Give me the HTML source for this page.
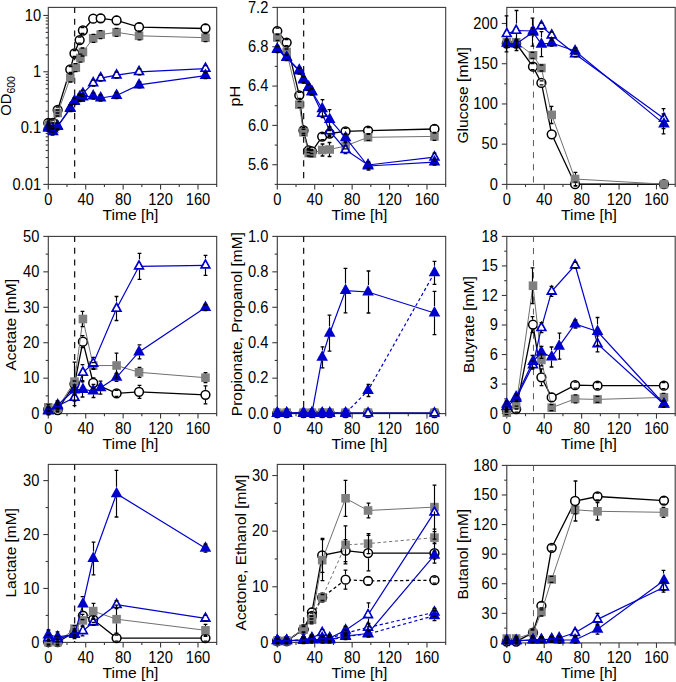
<!DOCTYPE html>
<html><head><meta charset="utf-8"><style>
html,body{margin:0;padding:0;background:#fff;}
svg{display:block;}
.tl{font-family:"Liberation Sans",sans-serif;font-size:14.55px;fill:#000;}
.tk{font-family:"Liberation Sans",sans-serif;font-size:15.2px;fill:#000;}
.yt{font-family:"Liberation Sans",sans-serif;font-size:14.8px;fill:#000;}
</style></head><body>
<svg width="676" height="682" viewBox="0 0 676 682">
<rect x="48.30" y="7.40" width="168.40" height="177.00" fill="none" stroke="#3a3a3a" stroke-width="1.1"/>
<line x1="48.30" y1="184.40" x2="48.30" y2="189.40" stroke="#3a3a3a" stroke-width="1.1"/>
<text transform="translate(48.30,204.60) scale(0.965,1.03)" text-anchor="middle" class="tk">0</text>
<line x1="85.72" y1="184.40" x2="85.72" y2="189.40" stroke="#3a3a3a" stroke-width="1.1"/>
<text transform="translate(85.72,204.60) scale(0.965,1.03)" text-anchor="middle" class="tk">40</text>
<line x1="123.14" y1="184.40" x2="123.14" y2="189.40" stroke="#3a3a3a" stroke-width="1.1"/>
<text transform="translate(123.14,204.60) scale(0.965,1.03)" text-anchor="middle" class="tk">80</text>
<line x1="160.56" y1="184.40" x2="160.56" y2="189.40" stroke="#3a3a3a" stroke-width="1.1"/>
<text transform="translate(160.56,204.60) scale(0.965,1.03)" text-anchor="middle" class="tk">120</text>
<line x1="197.98" y1="184.40" x2="197.98" y2="189.40" stroke="#3a3a3a" stroke-width="1.1"/>
<text transform="translate(197.98,204.60) scale(0.965,1.03)" text-anchor="middle" class="tk">160</text>
<line x1="67.01" y1="184.40" x2="67.01" y2="187.00" stroke="#3a3a3a" stroke-width="1.1"/>
<line x1="104.43" y1="184.40" x2="104.43" y2="187.00" stroke="#3a3a3a" stroke-width="1.1"/>
<line x1="141.85" y1="184.40" x2="141.85" y2="187.00" stroke="#3a3a3a" stroke-width="1.1"/>
<line x1="179.27" y1="184.40" x2="179.27" y2="187.00" stroke="#3a3a3a" stroke-width="1.1"/>
<line x1="216.69" y1="184.40" x2="216.69" y2="187.00" stroke="#3a3a3a" stroke-width="1.1"/>
<line x1="43.30" y1="184.40" x2="48.30" y2="184.40" stroke="#3a3a3a" stroke-width="1.1"/>
<text transform="translate(41.10,189.70) scale(0.965,1.03)" text-anchor="end" class="tk">0.01</text>
<line x1="43.30" y1="128.08" x2="48.30" y2="128.08" stroke="#3a3a3a" stroke-width="1.1"/>
<text transform="translate(41.10,133.38) scale(0.965,1.03)" text-anchor="end" class="tk">0.1</text>
<line x1="43.30" y1="71.77" x2="48.30" y2="71.77" stroke="#3a3a3a" stroke-width="1.1"/>
<text transform="translate(41.10,77.07) scale(0.965,1.03)" text-anchor="end" class="tk">1</text>
<line x1="43.30" y1="15.45" x2="48.30" y2="15.45" stroke="#3a3a3a" stroke-width="1.1"/>
<text transform="translate(41.10,20.75) scale(0.965,1.03)" text-anchor="end" class="tk">10</text>
<line x1="45.70" y1="167.45" x2="48.30" y2="167.45" stroke="#3a3a3a" stroke-width="1.1"/>
<line x1="45.70" y1="157.53" x2="48.30" y2="157.53" stroke="#3a3a3a" stroke-width="1.1"/>
<line x1="45.70" y1="150.49" x2="48.30" y2="150.49" stroke="#3a3a3a" stroke-width="1.1"/>
<line x1="45.70" y1="145.04" x2="48.30" y2="145.04" stroke="#3a3a3a" stroke-width="1.1"/>
<line x1="45.70" y1="140.58" x2="48.30" y2="140.58" stroke="#3a3a3a" stroke-width="1.1"/>
<line x1="45.70" y1="136.81" x2="48.30" y2="136.81" stroke="#3a3a3a" stroke-width="1.1"/>
<line x1="45.70" y1="133.54" x2="48.30" y2="133.54" stroke="#3a3a3a" stroke-width="1.1"/>
<line x1="45.70" y1="130.66" x2="48.30" y2="130.66" stroke="#3a3a3a" stroke-width="1.1"/>
<line x1="45.70" y1="111.13" x2="48.30" y2="111.13" stroke="#3a3a3a" stroke-width="1.1"/>
<line x1="45.70" y1="101.22" x2="48.30" y2="101.22" stroke="#3a3a3a" stroke-width="1.1"/>
<line x1="45.70" y1="94.18" x2="48.30" y2="94.18" stroke="#3a3a3a" stroke-width="1.1"/>
<line x1="45.70" y1="88.72" x2="48.30" y2="88.72" stroke="#3a3a3a" stroke-width="1.1"/>
<line x1="45.70" y1="84.26" x2="48.30" y2="84.26" stroke="#3a3a3a" stroke-width="1.1"/>
<line x1="45.70" y1="80.49" x2="48.30" y2="80.49" stroke="#3a3a3a" stroke-width="1.1"/>
<line x1="45.70" y1="77.23" x2="48.30" y2="77.23" stroke="#3a3a3a" stroke-width="1.1"/>
<line x1="45.70" y1="74.35" x2="48.30" y2="74.35" stroke="#3a3a3a" stroke-width="1.1"/>
<line x1="45.70" y1="54.82" x2="48.30" y2="54.82" stroke="#3a3a3a" stroke-width="1.1"/>
<line x1="45.70" y1="44.90" x2="48.30" y2="44.90" stroke="#3a3a3a" stroke-width="1.1"/>
<line x1="45.70" y1="37.86" x2="48.30" y2="37.86" stroke="#3a3a3a" stroke-width="1.1"/>
<line x1="45.70" y1="32.41" x2="48.30" y2="32.41" stroke="#3a3a3a" stroke-width="1.1"/>
<line x1="45.70" y1="27.95" x2="48.30" y2="27.95" stroke="#3a3a3a" stroke-width="1.1"/>
<line x1="45.70" y1="24.18" x2="48.30" y2="24.18" stroke="#3a3a3a" stroke-width="1.1"/>
<line x1="45.70" y1="20.91" x2="48.30" y2="20.91" stroke="#3a3a3a" stroke-width="1.1"/>
<line x1="45.70" y1="18.03" x2="48.30" y2="18.03" stroke="#3a3a3a" stroke-width="1.1"/>
<text transform="translate(130.50,219.90) scale(1.075,1)" text-anchor="middle" class="tl">Time [h]</text>
<text transform="translate(11.30,95.90) rotate(-90)" text-anchor="middle" class="yt">OD<tspan font-size="10.5" dy="4">600</tspan></text>
<path d="M74.63,7.40 V13.00 M74.63,18.70 V24.80 M74.63,30.50 V36.60 M74.63,42.30 V48.40 M74.63,54.10 V60.20 M74.63,65.90 V72.00 M74.63,77.70 V83.80 M74.63,89.50 V95.60 M74.63,101.30 V107.40 M74.63,113.10 V119.20 M74.63,124.90 V131.00 M74.63,136.70 V142.80 M74.63,148.50 V154.60 M74.63,160.30 V166.40 M74.63,172.10 V178.20 M74.63,183.90 V184.40" stroke="#1a1a1a" stroke-width="1.3" fill="none"/>
<rect x="277.30" y="7.40" width="168.40" height="177.00" fill="none" stroke="#3a3a3a" stroke-width="1.1"/>
<line x1="277.30" y1="184.40" x2="277.30" y2="189.40" stroke="#3a3a3a" stroke-width="1.1"/>
<text transform="translate(277.30,204.60) scale(0.965,1.03)" text-anchor="middle" class="tk">0</text>
<line x1="314.72" y1="184.40" x2="314.72" y2="189.40" stroke="#3a3a3a" stroke-width="1.1"/>
<text transform="translate(314.72,204.60) scale(0.965,1.03)" text-anchor="middle" class="tk">40</text>
<line x1="352.14" y1="184.40" x2="352.14" y2="189.40" stroke="#3a3a3a" stroke-width="1.1"/>
<text transform="translate(352.14,204.60) scale(0.965,1.03)" text-anchor="middle" class="tk">80</text>
<line x1="389.56" y1="184.40" x2="389.56" y2="189.40" stroke="#3a3a3a" stroke-width="1.1"/>
<text transform="translate(389.56,204.60) scale(0.965,1.03)" text-anchor="middle" class="tk">120</text>
<line x1="426.98" y1="184.40" x2="426.98" y2="189.40" stroke="#3a3a3a" stroke-width="1.1"/>
<text transform="translate(426.98,204.60) scale(0.965,1.03)" text-anchor="middle" class="tk">160</text>
<line x1="296.01" y1="184.40" x2="296.01" y2="187.00" stroke="#3a3a3a" stroke-width="1.1"/>
<line x1="333.43" y1="184.40" x2="333.43" y2="187.00" stroke="#3a3a3a" stroke-width="1.1"/>
<line x1="370.85" y1="184.40" x2="370.85" y2="187.00" stroke="#3a3a3a" stroke-width="1.1"/>
<line x1="408.27" y1="184.40" x2="408.27" y2="187.00" stroke="#3a3a3a" stroke-width="1.1"/>
<line x1="445.69" y1="184.40" x2="445.69" y2="187.00" stroke="#3a3a3a" stroke-width="1.1"/>
<line x1="272.30" y1="164.73" x2="277.30" y2="164.73" stroke="#3a3a3a" stroke-width="1.1"/>
<text transform="translate(268.30,170.03) scale(0.965,1.03)" text-anchor="end" class="tk">5.6</text>
<line x1="272.30" y1="125.40" x2="277.30" y2="125.40" stroke="#3a3a3a" stroke-width="1.1"/>
<text transform="translate(268.30,130.70) scale(0.965,1.03)" text-anchor="end" class="tk">6.0</text>
<line x1="272.30" y1="86.07" x2="277.30" y2="86.07" stroke="#3a3a3a" stroke-width="1.1"/>
<text transform="translate(268.30,91.37) scale(0.965,1.03)" text-anchor="end" class="tk">6.4</text>
<line x1="272.30" y1="46.73" x2="277.30" y2="46.73" stroke="#3a3a3a" stroke-width="1.1"/>
<text transform="translate(268.30,52.03) scale(0.965,1.03)" text-anchor="end" class="tk">6.8</text>
<line x1="272.30" y1="7.40" x2="277.30" y2="7.40" stroke="#3a3a3a" stroke-width="1.1"/>
<text transform="translate(268.30,12.70) scale(0.965,1.03)" text-anchor="end" class="tk">7.2</text>
<line x1="274.70" y1="184.40" x2="277.30" y2="184.40" stroke="#3a3a3a" stroke-width="1.1"/>
<line x1="274.70" y1="145.07" x2="277.30" y2="145.07" stroke="#3a3a3a" stroke-width="1.1"/>
<line x1="274.70" y1="105.73" x2="277.30" y2="105.73" stroke="#3a3a3a" stroke-width="1.1"/>
<line x1="274.70" y1="66.40" x2="277.30" y2="66.40" stroke="#3a3a3a" stroke-width="1.1"/>
<line x1="274.70" y1="27.07" x2="277.30" y2="27.07" stroke="#3a3a3a" stroke-width="1.1"/>
<text transform="translate(359.50,219.90) scale(1.075,1)" text-anchor="middle" class="tl">Time [h]</text>
<text transform="translate(240.40,96.15) rotate(-90)" text-anchor="middle" class="yt" textLength="20.80" lengthAdjust="spacingAndGlyphs">pH</text>
<path d="M303.63,7.40 V13.00 M303.63,18.70 V24.80 M303.63,30.50 V36.60 M303.63,42.30 V48.40 M303.63,54.10 V60.20 M303.63,65.90 V72.00 M303.63,77.70 V83.80 M303.63,89.50 V95.60 M303.63,101.30 V107.40 M303.63,113.10 V119.20 M303.63,124.90 V131.00 M303.63,136.70 V142.80 M303.63,148.50 V154.60 M303.63,160.30 V166.40 M303.63,172.10 V178.20 M303.63,183.90 V184.40" stroke="#1a1a1a" stroke-width="1.3" fill="none"/>
<rect x="506.80" y="7.40" width="168.40" height="177.00" fill="none" stroke="#3a3a3a" stroke-width="1.1"/>
<line x1="506.80" y1="184.40" x2="506.80" y2="189.40" stroke="#3a3a3a" stroke-width="1.1"/>
<text transform="translate(506.80,204.60) scale(0.965,1.03)" text-anchor="middle" class="tk">0</text>
<line x1="544.22" y1="184.40" x2="544.22" y2="189.40" stroke="#3a3a3a" stroke-width="1.1"/>
<text transform="translate(544.22,204.60) scale(0.965,1.03)" text-anchor="middle" class="tk">40</text>
<line x1="581.64" y1="184.40" x2="581.64" y2="189.40" stroke="#3a3a3a" stroke-width="1.1"/>
<text transform="translate(581.64,204.60) scale(0.965,1.03)" text-anchor="middle" class="tk">80</text>
<line x1="619.06" y1="184.40" x2="619.06" y2="189.40" stroke="#3a3a3a" stroke-width="1.1"/>
<text transform="translate(619.06,204.60) scale(0.965,1.03)" text-anchor="middle" class="tk">120</text>
<line x1="656.48" y1="184.40" x2="656.48" y2="189.40" stroke="#3a3a3a" stroke-width="1.1"/>
<text transform="translate(656.48,204.60) scale(0.965,1.03)" text-anchor="middle" class="tk">160</text>
<line x1="525.51" y1="184.40" x2="525.51" y2="187.00" stroke="#3a3a3a" stroke-width="1.1"/>
<line x1="562.93" y1="184.40" x2="562.93" y2="187.00" stroke="#3a3a3a" stroke-width="1.1"/>
<line x1="600.35" y1="184.40" x2="600.35" y2="187.00" stroke="#3a3a3a" stroke-width="1.1"/>
<line x1="637.77" y1="184.40" x2="637.77" y2="187.00" stroke="#3a3a3a" stroke-width="1.1"/>
<line x1="675.19" y1="184.40" x2="675.19" y2="187.00" stroke="#3a3a3a" stroke-width="1.1"/>
<line x1="501.80" y1="184.40" x2="506.80" y2="184.40" stroke="#3a3a3a" stroke-width="1.1"/>
<text transform="translate(497.80,189.70) scale(0.965,1.03)" text-anchor="end" class="tk">0</text>
<line x1="501.80" y1="144.17" x2="506.80" y2="144.17" stroke="#3a3a3a" stroke-width="1.1"/>
<text transform="translate(497.80,149.47) scale(0.965,1.03)" text-anchor="end" class="tk">50</text>
<line x1="501.80" y1="103.95" x2="506.80" y2="103.95" stroke="#3a3a3a" stroke-width="1.1"/>
<text transform="translate(497.80,109.25) scale(0.965,1.03)" text-anchor="end" class="tk">100</text>
<line x1="501.80" y1="63.72" x2="506.80" y2="63.72" stroke="#3a3a3a" stroke-width="1.1"/>
<text transform="translate(497.80,69.02) scale(0.965,1.03)" text-anchor="end" class="tk">150</text>
<line x1="501.80" y1="23.49" x2="506.80" y2="23.49" stroke="#3a3a3a" stroke-width="1.1"/>
<text transform="translate(497.80,28.79) scale(0.965,1.03)" text-anchor="end" class="tk">200</text>
<line x1="504.20" y1="164.29" x2="506.80" y2="164.29" stroke="#3a3a3a" stroke-width="1.1"/>
<line x1="504.20" y1="124.06" x2="506.80" y2="124.06" stroke="#3a3a3a" stroke-width="1.1"/>
<line x1="504.20" y1="83.83" x2="506.80" y2="83.83" stroke="#3a3a3a" stroke-width="1.1"/>
<line x1="504.20" y1="43.60" x2="506.80" y2="43.60" stroke="#3a3a3a" stroke-width="1.1"/>
<text transform="translate(589.00,219.90) scale(1.075,1)" text-anchor="middle" class="tl">Time [h]</text>
<text transform="translate(467.80,95.40) rotate(-90)" text-anchor="middle" class="yt" textLength="96.30" lengthAdjust="spacingAndGlyphs">Glucose [mM]</text>
<path d="M533.46,7.40 V13.00 M533.46,19.00 V25.10 M533.46,31.10 V37.20 M533.46,43.20 V49.30 M533.46,55.30 V61.40 M533.46,67.40 V73.50 M533.46,79.50 V85.60 M533.46,91.60 V97.70 M533.46,103.70 V109.80 M533.46,115.80 V121.90 M533.46,127.90 V134.00 M533.46,140.00 V146.10 M533.46,152.10 V158.20 M533.46,164.20 V170.30 M533.46,176.30 V182.40" stroke="#5a5a5a" stroke-width="1.0" fill="none"/>
<rect x="48.30" y="236.40" width="168.40" height="177.20" fill="none" stroke="#3a3a3a" stroke-width="1.1"/>
<line x1="48.30" y1="413.60" x2="48.30" y2="418.60" stroke="#3a3a3a" stroke-width="1.1"/>
<text transform="translate(48.30,433.80) scale(0.965,1.03)" text-anchor="middle" class="tk">0</text>
<line x1="85.72" y1="413.60" x2="85.72" y2="418.60" stroke="#3a3a3a" stroke-width="1.1"/>
<text transform="translate(85.72,433.80) scale(0.965,1.03)" text-anchor="middle" class="tk">40</text>
<line x1="123.14" y1="413.60" x2="123.14" y2="418.60" stroke="#3a3a3a" stroke-width="1.1"/>
<text transform="translate(123.14,433.80) scale(0.965,1.03)" text-anchor="middle" class="tk">80</text>
<line x1="160.56" y1="413.60" x2="160.56" y2="418.60" stroke="#3a3a3a" stroke-width="1.1"/>
<text transform="translate(160.56,433.80) scale(0.965,1.03)" text-anchor="middle" class="tk">120</text>
<line x1="197.98" y1="413.60" x2="197.98" y2="418.60" stroke="#3a3a3a" stroke-width="1.1"/>
<text transform="translate(197.98,433.80) scale(0.965,1.03)" text-anchor="middle" class="tk">160</text>
<line x1="67.01" y1="413.60" x2="67.01" y2="416.20" stroke="#3a3a3a" stroke-width="1.1"/>
<line x1="104.43" y1="413.60" x2="104.43" y2="416.20" stroke="#3a3a3a" stroke-width="1.1"/>
<line x1="141.85" y1="413.60" x2="141.85" y2="416.20" stroke="#3a3a3a" stroke-width="1.1"/>
<line x1="179.27" y1="413.60" x2="179.27" y2="416.20" stroke="#3a3a3a" stroke-width="1.1"/>
<line x1="216.69" y1="413.60" x2="216.69" y2="416.20" stroke="#3a3a3a" stroke-width="1.1"/>
<line x1="43.30" y1="413.60" x2="48.30" y2="413.60" stroke="#3a3a3a" stroke-width="1.1"/>
<text transform="translate(39.30,418.90) scale(0.965,1.03)" text-anchor="end" class="tk">0</text>
<line x1="43.30" y1="378.16" x2="48.30" y2="378.16" stroke="#3a3a3a" stroke-width="1.1"/>
<text transform="translate(39.30,383.46) scale(0.965,1.03)" text-anchor="end" class="tk">10</text>
<line x1="43.30" y1="342.72" x2="48.30" y2="342.72" stroke="#3a3a3a" stroke-width="1.1"/>
<text transform="translate(39.30,348.02) scale(0.965,1.03)" text-anchor="end" class="tk">20</text>
<line x1="43.30" y1="307.28" x2="48.30" y2="307.28" stroke="#3a3a3a" stroke-width="1.1"/>
<text transform="translate(39.30,312.58) scale(0.965,1.03)" text-anchor="end" class="tk">30</text>
<line x1="43.30" y1="271.84" x2="48.30" y2="271.84" stroke="#3a3a3a" stroke-width="1.1"/>
<text transform="translate(39.30,277.14) scale(0.965,1.03)" text-anchor="end" class="tk">40</text>
<line x1="43.30" y1="236.40" x2="48.30" y2="236.40" stroke="#3a3a3a" stroke-width="1.1"/>
<text transform="translate(39.30,241.70) scale(0.965,1.03)" text-anchor="end" class="tk">50</text>
<line x1="45.70" y1="395.88" x2="48.30" y2="395.88" stroke="#3a3a3a" stroke-width="1.1"/>
<line x1="45.70" y1="360.44" x2="48.30" y2="360.44" stroke="#3a3a3a" stroke-width="1.1"/>
<line x1="45.70" y1="325.00" x2="48.30" y2="325.00" stroke="#3a3a3a" stroke-width="1.1"/>
<line x1="45.70" y1="289.56" x2="48.30" y2="289.56" stroke="#3a3a3a" stroke-width="1.1"/>
<line x1="45.70" y1="254.12" x2="48.30" y2="254.12" stroke="#3a3a3a" stroke-width="1.1"/>
<text transform="translate(130.50,449.10) scale(1.075,1)" text-anchor="middle" class="tl">Time [h]</text>
<text transform="translate(15.50,324.80) rotate(-90)" text-anchor="middle" class="yt" textLength="91.50" lengthAdjust="spacingAndGlyphs">Acetate [mM]</text>
<path d="M74.63,236.40 V242.00 M74.63,247.70 V253.80 M74.63,259.50 V265.60 M74.63,271.30 V277.40 M74.63,283.10 V289.20 M74.63,294.90 V301.00 M74.63,306.70 V312.80 M74.63,318.50 V324.60 M74.63,330.30 V336.40 M74.63,342.10 V348.20 M74.63,353.90 V360.00 M74.63,365.70 V371.80 M74.63,377.50 V383.60 M74.63,389.30 V395.40 M74.63,401.10 V407.20 M74.63,412.90 V413.60" stroke="#1a1a1a" stroke-width="1.3" fill="none"/>
<rect x="277.30" y="236.40" width="168.40" height="177.20" fill="none" stroke="#3a3a3a" stroke-width="1.1"/>
<line x1="277.30" y1="413.60" x2="277.30" y2="418.60" stroke="#3a3a3a" stroke-width="1.1"/>
<text transform="translate(277.30,433.80) scale(0.965,1.03)" text-anchor="middle" class="tk">0</text>
<line x1="314.72" y1="413.60" x2="314.72" y2="418.60" stroke="#3a3a3a" stroke-width="1.1"/>
<text transform="translate(314.72,433.80) scale(0.965,1.03)" text-anchor="middle" class="tk">40</text>
<line x1="352.14" y1="413.60" x2="352.14" y2="418.60" stroke="#3a3a3a" stroke-width="1.1"/>
<text transform="translate(352.14,433.80) scale(0.965,1.03)" text-anchor="middle" class="tk">80</text>
<line x1="389.56" y1="413.60" x2="389.56" y2="418.60" stroke="#3a3a3a" stroke-width="1.1"/>
<text transform="translate(389.56,433.80) scale(0.965,1.03)" text-anchor="middle" class="tk">120</text>
<line x1="426.98" y1="413.60" x2="426.98" y2="418.60" stroke="#3a3a3a" stroke-width="1.1"/>
<text transform="translate(426.98,433.80) scale(0.965,1.03)" text-anchor="middle" class="tk">160</text>
<line x1="296.01" y1="413.60" x2="296.01" y2="416.20" stroke="#3a3a3a" stroke-width="1.1"/>
<line x1="333.43" y1="413.60" x2="333.43" y2="416.20" stroke="#3a3a3a" stroke-width="1.1"/>
<line x1="370.85" y1="413.60" x2="370.85" y2="416.20" stroke="#3a3a3a" stroke-width="1.1"/>
<line x1="408.27" y1="413.60" x2="408.27" y2="416.20" stroke="#3a3a3a" stroke-width="1.1"/>
<line x1="445.69" y1="413.60" x2="445.69" y2="416.20" stroke="#3a3a3a" stroke-width="1.1"/>
<line x1="272.30" y1="413.60" x2="277.30" y2="413.60" stroke="#3a3a3a" stroke-width="1.1"/>
<text transform="translate(268.30,418.90) scale(0.965,1.03)" text-anchor="end" class="tk">0.0</text>
<line x1="272.30" y1="378.16" x2="277.30" y2="378.16" stroke="#3a3a3a" stroke-width="1.1"/>
<text transform="translate(268.30,383.46) scale(0.965,1.03)" text-anchor="end" class="tk">0.2</text>
<line x1="272.30" y1="342.72" x2="277.30" y2="342.72" stroke="#3a3a3a" stroke-width="1.1"/>
<text transform="translate(268.30,348.02) scale(0.965,1.03)" text-anchor="end" class="tk">0.4</text>
<line x1="272.30" y1="307.28" x2="277.30" y2="307.28" stroke="#3a3a3a" stroke-width="1.1"/>
<text transform="translate(268.30,312.58) scale(0.965,1.03)" text-anchor="end" class="tk">0.6</text>
<line x1="272.30" y1="271.84" x2="277.30" y2="271.84" stroke="#3a3a3a" stroke-width="1.1"/>
<text transform="translate(268.30,277.14) scale(0.965,1.03)" text-anchor="end" class="tk">0.8</text>
<line x1="272.30" y1="236.40" x2="277.30" y2="236.40" stroke="#3a3a3a" stroke-width="1.1"/>
<text transform="translate(268.30,241.70) scale(0.965,1.03)" text-anchor="end" class="tk">1.0</text>
<line x1="274.70" y1="395.88" x2="277.30" y2="395.88" stroke="#3a3a3a" stroke-width="1.1"/>
<line x1="274.70" y1="360.44" x2="277.30" y2="360.44" stroke="#3a3a3a" stroke-width="1.1"/>
<line x1="274.70" y1="325.00" x2="277.30" y2="325.00" stroke="#3a3a3a" stroke-width="1.1"/>
<line x1="274.70" y1="289.56" x2="277.30" y2="289.56" stroke="#3a3a3a" stroke-width="1.1"/>
<line x1="274.70" y1="254.12" x2="277.30" y2="254.12" stroke="#3a3a3a" stroke-width="1.1"/>
<text transform="translate(359.50,449.10) scale(1.075,1)" text-anchor="middle" class="tl">Time [h]</text>
<text transform="translate(241.50,324.15) rotate(-90)" text-anchor="middle" class="yt" textLength="184.00" lengthAdjust="spacingAndGlyphs">Propionate, Propanol [mM]</text>
<path d="M303.63,236.40 V242.00 M303.63,247.70 V253.80 M303.63,259.50 V265.60 M303.63,271.30 V277.40 M303.63,283.10 V289.20 M303.63,294.90 V301.00 M303.63,306.70 V312.80 M303.63,318.50 V324.60 M303.63,330.30 V336.40 M303.63,342.10 V348.20 M303.63,353.90 V360.00 M303.63,365.70 V371.80 M303.63,377.50 V383.60 M303.63,389.30 V395.40 M303.63,401.10 V407.20 M303.63,412.90 V413.60" stroke="#1a1a1a" stroke-width="1.3" fill="none"/>
<rect x="506.80" y="236.40" width="168.40" height="177.20" fill="none" stroke="#3a3a3a" stroke-width="1.1"/>
<line x1="506.80" y1="413.60" x2="506.80" y2="418.60" stroke="#3a3a3a" stroke-width="1.1"/>
<text transform="translate(506.80,433.80) scale(0.965,1.03)" text-anchor="middle" class="tk">0</text>
<line x1="544.22" y1="413.60" x2="544.22" y2="418.60" stroke="#3a3a3a" stroke-width="1.1"/>
<text transform="translate(544.22,433.80) scale(0.965,1.03)" text-anchor="middle" class="tk">40</text>
<line x1="581.64" y1="413.60" x2="581.64" y2="418.60" stroke="#3a3a3a" stroke-width="1.1"/>
<text transform="translate(581.64,433.80) scale(0.965,1.03)" text-anchor="middle" class="tk">80</text>
<line x1="619.06" y1="413.60" x2="619.06" y2="418.60" stroke="#3a3a3a" stroke-width="1.1"/>
<text transform="translate(619.06,433.80) scale(0.965,1.03)" text-anchor="middle" class="tk">120</text>
<line x1="656.48" y1="413.60" x2="656.48" y2="418.60" stroke="#3a3a3a" stroke-width="1.1"/>
<text transform="translate(656.48,433.80) scale(0.965,1.03)" text-anchor="middle" class="tk">160</text>
<line x1="525.51" y1="413.60" x2="525.51" y2="416.20" stroke="#3a3a3a" stroke-width="1.1"/>
<line x1="562.93" y1="413.60" x2="562.93" y2="416.20" stroke="#3a3a3a" stroke-width="1.1"/>
<line x1="600.35" y1="413.60" x2="600.35" y2="416.20" stroke="#3a3a3a" stroke-width="1.1"/>
<line x1="637.77" y1="413.60" x2="637.77" y2="416.20" stroke="#3a3a3a" stroke-width="1.1"/>
<line x1="675.19" y1="413.60" x2="675.19" y2="416.20" stroke="#3a3a3a" stroke-width="1.1"/>
<line x1="501.80" y1="413.60" x2="506.80" y2="413.60" stroke="#3a3a3a" stroke-width="1.1"/>
<text transform="translate(497.80,418.90) scale(0.965,1.03)" text-anchor="end" class="tk">0</text>
<line x1="501.80" y1="384.07" x2="506.80" y2="384.07" stroke="#3a3a3a" stroke-width="1.1"/>
<text transform="translate(497.80,389.37) scale(0.965,1.03)" text-anchor="end" class="tk">3</text>
<line x1="501.80" y1="354.53" x2="506.80" y2="354.53" stroke="#3a3a3a" stroke-width="1.1"/>
<text transform="translate(497.80,359.83) scale(0.965,1.03)" text-anchor="end" class="tk">6</text>
<line x1="501.80" y1="325.00" x2="506.80" y2="325.00" stroke="#3a3a3a" stroke-width="1.1"/>
<text transform="translate(497.80,330.30) scale(0.965,1.03)" text-anchor="end" class="tk">9</text>
<line x1="501.80" y1="295.47" x2="506.80" y2="295.47" stroke="#3a3a3a" stroke-width="1.1"/>
<text transform="translate(497.80,300.77) scale(0.965,1.03)" text-anchor="end" class="tk">12</text>
<line x1="501.80" y1="265.93" x2="506.80" y2="265.93" stroke="#3a3a3a" stroke-width="1.1"/>
<text transform="translate(497.80,271.23) scale(0.965,1.03)" text-anchor="end" class="tk">15</text>
<line x1="501.80" y1="236.40" x2="506.80" y2="236.40" stroke="#3a3a3a" stroke-width="1.1"/>
<text transform="translate(497.80,241.70) scale(0.965,1.03)" text-anchor="end" class="tk">18</text>
<line x1="504.20" y1="398.83" x2="506.80" y2="398.83" stroke="#3a3a3a" stroke-width="1.1"/>
<line x1="504.20" y1="369.30" x2="506.80" y2="369.30" stroke="#3a3a3a" stroke-width="1.1"/>
<line x1="504.20" y1="339.77" x2="506.80" y2="339.77" stroke="#3a3a3a" stroke-width="1.1"/>
<line x1="504.20" y1="310.23" x2="506.80" y2="310.23" stroke="#3a3a3a" stroke-width="1.1"/>
<line x1="504.20" y1="280.70" x2="506.80" y2="280.70" stroke="#3a3a3a" stroke-width="1.1"/>
<line x1="504.20" y1="251.17" x2="506.80" y2="251.17" stroke="#3a3a3a" stroke-width="1.1"/>
<text transform="translate(589.00,449.10) scale(1.075,1)" text-anchor="middle" class="tl">Time [h]</text>
<text transform="translate(474.10,324.70) rotate(-90)" text-anchor="middle" class="yt" textLength="96.80" lengthAdjust="spacingAndGlyphs">Butyrate [mM]</text>
<path d="M533.46,236.40 V242.00 M533.46,248.00 V254.10 M533.46,260.10 V266.20 M533.46,272.20 V278.30 M533.46,284.30 V290.40 M533.46,296.40 V302.50 M533.46,308.50 V314.60 M533.46,320.60 V326.70 M533.46,332.70 V338.80 M533.46,344.80 V350.90 M533.46,356.90 V363.00 M533.46,369.00 V375.10 M533.46,381.10 V387.20 M533.46,393.20 V399.30 M533.46,405.30 V411.40" stroke="#5a5a5a" stroke-width="1.0" fill="none"/>
<rect x="48.30" y="464.40" width="168.40" height="178.00" fill="none" stroke="#3a3a3a" stroke-width="1.1"/>
<line x1="48.30" y1="642.40" x2="48.30" y2="647.40" stroke="#3a3a3a" stroke-width="1.1"/>
<text transform="translate(48.30,662.60) scale(0.965,1.03)" text-anchor="middle" class="tk">0</text>
<line x1="85.72" y1="642.40" x2="85.72" y2="647.40" stroke="#3a3a3a" stroke-width="1.1"/>
<text transform="translate(85.72,662.60) scale(0.965,1.03)" text-anchor="middle" class="tk">40</text>
<line x1="123.14" y1="642.40" x2="123.14" y2="647.40" stroke="#3a3a3a" stroke-width="1.1"/>
<text transform="translate(123.14,662.60) scale(0.965,1.03)" text-anchor="middle" class="tk">80</text>
<line x1="160.56" y1="642.40" x2="160.56" y2="647.40" stroke="#3a3a3a" stroke-width="1.1"/>
<text transform="translate(160.56,662.60) scale(0.965,1.03)" text-anchor="middle" class="tk">120</text>
<line x1="197.98" y1="642.40" x2="197.98" y2="647.40" stroke="#3a3a3a" stroke-width="1.1"/>
<text transform="translate(197.98,662.60) scale(0.965,1.03)" text-anchor="middle" class="tk">160</text>
<line x1="67.01" y1="642.40" x2="67.01" y2="645.00" stroke="#3a3a3a" stroke-width="1.1"/>
<line x1="104.43" y1="642.40" x2="104.43" y2="645.00" stroke="#3a3a3a" stroke-width="1.1"/>
<line x1="141.85" y1="642.40" x2="141.85" y2="645.00" stroke="#3a3a3a" stroke-width="1.1"/>
<line x1="179.27" y1="642.40" x2="179.27" y2="645.00" stroke="#3a3a3a" stroke-width="1.1"/>
<line x1="216.69" y1="642.40" x2="216.69" y2="645.00" stroke="#3a3a3a" stroke-width="1.1"/>
<line x1="43.30" y1="642.40" x2="48.30" y2="642.40" stroke="#3a3a3a" stroke-width="1.1"/>
<text transform="translate(39.30,647.70) scale(0.965,1.03)" text-anchor="end" class="tk">0</text>
<line x1="43.30" y1="588.46" x2="48.30" y2="588.46" stroke="#3a3a3a" stroke-width="1.1"/>
<text transform="translate(39.30,593.76) scale(0.965,1.03)" text-anchor="end" class="tk">10</text>
<line x1="43.30" y1="534.52" x2="48.30" y2="534.52" stroke="#3a3a3a" stroke-width="1.1"/>
<text transform="translate(39.30,539.82) scale(0.965,1.03)" text-anchor="end" class="tk">20</text>
<line x1="43.30" y1="480.58" x2="48.30" y2="480.58" stroke="#3a3a3a" stroke-width="1.1"/>
<text transform="translate(39.30,485.88) scale(0.965,1.03)" text-anchor="end" class="tk">30</text>
<line x1="45.70" y1="615.43" x2="48.30" y2="615.43" stroke="#3a3a3a" stroke-width="1.1"/>
<line x1="45.70" y1="561.49" x2="48.30" y2="561.49" stroke="#3a3a3a" stroke-width="1.1"/>
<line x1="45.70" y1="507.55" x2="48.30" y2="507.55" stroke="#3a3a3a" stroke-width="1.1"/>
<text transform="translate(130.50,677.90) scale(1.075,1)" text-anchor="middle" class="tl">Time [h]</text>
<text transform="translate(16.00,552.80) rotate(-90)" text-anchor="middle" class="yt" textLength="89.40" lengthAdjust="spacingAndGlyphs">Lactate [mM]</text>
<path d="M74.63,464.40 V470.00 M74.63,475.70 V481.80 M74.63,487.50 V493.60 M74.63,499.30 V505.40 M74.63,511.10 V517.20 M74.63,522.90 V529.00 M74.63,534.70 V540.80 M74.63,546.50 V552.60 M74.63,558.30 V564.40 M74.63,570.10 V576.20 M74.63,581.90 V588.00 M74.63,593.70 V599.80 M74.63,605.50 V611.60 M74.63,617.30 V623.40 M74.63,629.10 V635.20 M74.63,640.90 V642.40" stroke="#1a1a1a" stroke-width="1.3" fill="none"/>
<rect x="277.30" y="464.40" width="168.40" height="178.00" fill="none" stroke="#3a3a3a" stroke-width="1.1"/>
<line x1="277.30" y1="642.40" x2="277.30" y2="647.40" stroke="#3a3a3a" stroke-width="1.1"/>
<text transform="translate(277.30,662.60) scale(0.965,1.03)" text-anchor="middle" class="tk">0</text>
<line x1="314.72" y1="642.40" x2="314.72" y2="647.40" stroke="#3a3a3a" stroke-width="1.1"/>
<text transform="translate(314.72,662.60) scale(0.965,1.03)" text-anchor="middle" class="tk">40</text>
<line x1="352.14" y1="642.40" x2="352.14" y2="647.40" stroke="#3a3a3a" stroke-width="1.1"/>
<text transform="translate(352.14,662.60) scale(0.965,1.03)" text-anchor="middle" class="tk">80</text>
<line x1="389.56" y1="642.40" x2="389.56" y2="647.40" stroke="#3a3a3a" stroke-width="1.1"/>
<text transform="translate(389.56,662.60) scale(0.965,1.03)" text-anchor="middle" class="tk">120</text>
<line x1="426.98" y1="642.40" x2="426.98" y2="647.40" stroke="#3a3a3a" stroke-width="1.1"/>
<text transform="translate(426.98,662.60) scale(0.965,1.03)" text-anchor="middle" class="tk">160</text>
<line x1="296.01" y1="642.40" x2="296.01" y2="645.00" stroke="#3a3a3a" stroke-width="1.1"/>
<line x1="333.43" y1="642.40" x2="333.43" y2="645.00" stroke="#3a3a3a" stroke-width="1.1"/>
<line x1="370.85" y1="642.40" x2="370.85" y2="645.00" stroke="#3a3a3a" stroke-width="1.1"/>
<line x1="408.27" y1="642.40" x2="408.27" y2="645.00" stroke="#3a3a3a" stroke-width="1.1"/>
<line x1="445.69" y1="642.40" x2="445.69" y2="645.00" stroke="#3a3a3a" stroke-width="1.1"/>
<line x1="272.30" y1="642.40" x2="277.30" y2="642.40" stroke="#3a3a3a" stroke-width="1.1"/>
<text transform="translate(268.30,647.70) scale(0.965,1.03)" text-anchor="end" class="tk">0</text>
<line x1="272.30" y1="586.77" x2="277.30" y2="586.77" stroke="#3a3a3a" stroke-width="1.1"/>
<text transform="translate(268.30,592.07) scale(0.965,1.03)" text-anchor="end" class="tk">10</text>
<line x1="272.30" y1="531.15" x2="277.30" y2="531.15" stroke="#3a3a3a" stroke-width="1.1"/>
<text transform="translate(268.30,536.45) scale(0.965,1.03)" text-anchor="end" class="tk">20</text>
<line x1="272.30" y1="475.52" x2="277.30" y2="475.52" stroke="#3a3a3a" stroke-width="1.1"/>
<text transform="translate(268.30,480.82) scale(0.965,1.03)" text-anchor="end" class="tk">30</text>
<line x1="274.70" y1="614.59" x2="277.30" y2="614.59" stroke="#3a3a3a" stroke-width="1.1"/>
<line x1="274.70" y1="558.96" x2="277.30" y2="558.96" stroke="#3a3a3a" stroke-width="1.1"/>
<line x1="274.70" y1="503.34" x2="277.30" y2="503.34" stroke="#3a3a3a" stroke-width="1.1"/>
<text transform="translate(359.50,677.90) scale(1.075,1)" text-anchor="middle" class="tl">Time [h]</text>
<text transform="translate(245.50,552.50) rotate(-90)" text-anchor="middle" class="yt" textLength="155.80" lengthAdjust="spacingAndGlyphs">Acetone, Ethanol [mM]</text>
<path d="M303.63,464.40 V470.00 M303.63,475.70 V481.80 M303.63,487.50 V493.60 M303.63,499.30 V505.40 M303.63,511.10 V517.20 M303.63,522.90 V529.00 M303.63,534.70 V540.80 M303.63,546.50 V552.60 M303.63,558.30 V564.40 M303.63,570.10 V576.20 M303.63,581.90 V588.00 M303.63,593.70 V599.80 M303.63,605.50 V611.60 M303.63,617.30 V623.40 M303.63,629.10 V635.20 M303.63,640.90 V642.40" stroke="#1a1a1a" stroke-width="1.3" fill="none"/>
<rect x="506.80" y="465.40" width="168.40" height="177.50" fill="none" stroke="#3a3a3a" stroke-width="1.1"/>
<line x1="506.80" y1="642.90" x2="506.80" y2="647.90" stroke="#3a3a3a" stroke-width="1.1"/>
<text transform="translate(506.80,663.10) scale(0.965,1.03)" text-anchor="middle" class="tk">0</text>
<line x1="544.22" y1="642.90" x2="544.22" y2="647.90" stroke="#3a3a3a" stroke-width="1.1"/>
<text transform="translate(544.22,663.10) scale(0.965,1.03)" text-anchor="middle" class="tk">40</text>
<line x1="581.64" y1="642.90" x2="581.64" y2="647.90" stroke="#3a3a3a" stroke-width="1.1"/>
<text transform="translate(581.64,663.10) scale(0.965,1.03)" text-anchor="middle" class="tk">80</text>
<line x1="619.06" y1="642.90" x2="619.06" y2="647.90" stroke="#3a3a3a" stroke-width="1.1"/>
<text transform="translate(619.06,663.10) scale(0.965,1.03)" text-anchor="middle" class="tk">120</text>
<line x1="656.48" y1="642.90" x2="656.48" y2="647.90" stroke="#3a3a3a" stroke-width="1.1"/>
<text transform="translate(656.48,663.10) scale(0.965,1.03)" text-anchor="middle" class="tk">160</text>
<line x1="525.51" y1="642.90" x2="525.51" y2="645.50" stroke="#3a3a3a" stroke-width="1.1"/>
<line x1="562.93" y1="642.90" x2="562.93" y2="645.50" stroke="#3a3a3a" stroke-width="1.1"/>
<line x1="600.35" y1="642.90" x2="600.35" y2="645.50" stroke="#3a3a3a" stroke-width="1.1"/>
<line x1="637.77" y1="642.90" x2="637.77" y2="645.50" stroke="#3a3a3a" stroke-width="1.1"/>
<line x1="675.19" y1="642.90" x2="675.19" y2="645.50" stroke="#3a3a3a" stroke-width="1.1"/>
<line x1="501.80" y1="642.90" x2="506.80" y2="642.90" stroke="#3a3a3a" stroke-width="1.1"/>
<text transform="translate(497.80,648.20) scale(0.965,1.03)" text-anchor="end" class="tk">0</text>
<line x1="501.80" y1="613.32" x2="506.80" y2="613.32" stroke="#3a3a3a" stroke-width="1.1"/>
<text transform="translate(497.80,618.62) scale(0.965,1.03)" text-anchor="end" class="tk">30</text>
<line x1="501.80" y1="583.73" x2="506.80" y2="583.73" stroke="#3a3a3a" stroke-width="1.1"/>
<text transform="translate(497.80,589.03) scale(0.965,1.03)" text-anchor="end" class="tk">60</text>
<line x1="501.80" y1="554.15" x2="506.80" y2="554.15" stroke="#3a3a3a" stroke-width="1.1"/>
<text transform="translate(497.80,559.45) scale(0.965,1.03)" text-anchor="end" class="tk">90</text>
<line x1="501.80" y1="524.57" x2="506.80" y2="524.57" stroke="#3a3a3a" stroke-width="1.1"/>
<text transform="translate(497.80,529.87) scale(0.965,1.03)" text-anchor="end" class="tk">120</text>
<line x1="501.80" y1="494.98" x2="506.80" y2="494.98" stroke="#3a3a3a" stroke-width="1.1"/>
<text transform="translate(497.80,500.28) scale(0.965,1.03)" text-anchor="end" class="tk">150</text>
<line x1="501.80" y1="465.40" x2="506.80" y2="465.40" stroke="#3a3a3a" stroke-width="1.1"/>
<text transform="translate(497.80,470.70) scale(0.965,1.03)" text-anchor="end" class="tk">180</text>
<line x1="504.20" y1="628.11" x2="506.80" y2="628.11" stroke="#3a3a3a" stroke-width="1.1"/>
<line x1="504.20" y1="598.52" x2="506.80" y2="598.52" stroke="#3a3a3a" stroke-width="1.1"/>
<line x1="504.20" y1="568.94" x2="506.80" y2="568.94" stroke="#3a3a3a" stroke-width="1.1"/>
<line x1="504.20" y1="539.36" x2="506.80" y2="539.36" stroke="#3a3a3a" stroke-width="1.1"/>
<line x1="504.20" y1="509.77" x2="506.80" y2="509.77" stroke="#3a3a3a" stroke-width="1.1"/>
<line x1="504.20" y1="480.19" x2="506.80" y2="480.19" stroke="#3a3a3a" stroke-width="1.1"/>
<text transform="translate(589.00,678.40) scale(1.075,1)" text-anchor="middle" class="tl">Time [h]</text>
<text transform="translate(468.00,554.20) rotate(-90)" text-anchor="middle" class="yt" textLength="90.60" lengthAdjust="spacingAndGlyphs">Butanol [mM]</text>
<path d="M533.46,465.40 V471.00 M533.46,477.00 V483.10 M533.46,489.10 V495.20 M533.46,501.20 V507.30 M533.46,513.30 V519.40 M533.46,525.40 V531.50 M533.46,537.50 V543.60 M533.46,549.60 V555.70 M533.46,561.70 V567.80 M533.46,573.80 V579.90 M533.46,585.90 V592.00 M533.46,598.00 V604.10 M533.46,610.10 V616.20 M533.46,622.20 V628.30 M533.46,634.30 V640.40" stroke="#5a5a5a" stroke-width="1.0" fill="none"/>
<path d="M48.30,123.00 L52.98,123.00 L57.66,110.00 L70.28,69.50 L74.49,53.50 L79.64,40.10 L82.91,30.50 L93.20,18.70 L100.69,18.30 L116.59,20.40 L139.04,27.10 L205.46,28.50" fill="none" stroke="#000" stroke-width="1.3"/>
<circle cx="48.30" cy="123.00" r="4.4" fill="#fff" stroke="#000" stroke-width="1.5"/>
<circle cx="52.98" cy="123.00" r="4.4" fill="#fff" stroke="#000" stroke-width="1.5"/>
<circle cx="57.66" cy="110.00" r="4.4" fill="#fff" stroke="#000" stroke-width="1.5"/>
<circle cx="70.28" cy="69.50" r="4.4" fill="#fff" stroke="#000" stroke-width="1.5"/>
<circle cx="74.49" cy="53.50" r="4.4" fill="#fff" stroke="#000" stroke-width="1.5"/>
<circle cx="79.64" cy="40.10" r="4.4" fill="#fff" stroke="#000" stroke-width="1.5"/>
<circle cx="82.91" cy="30.50" r="4.4" fill="#fff" stroke="#000" stroke-width="1.5"/>
<circle cx="93.20" cy="18.70" r="4.4" fill="#fff" stroke="#000" stroke-width="1.5"/>
<circle cx="100.69" cy="18.30" r="4.4" fill="#fff" stroke="#000" stroke-width="1.5"/>
<circle cx="116.59" cy="20.40" r="4.4" fill="#fff" stroke="#000" stroke-width="1.5"/>
<circle cx="139.04" cy="27.10" r="4.4" fill="#fff" stroke="#000" stroke-width="1.5"/>
<circle cx="205.46" cy="28.50" r="4.4" fill="#fff" stroke="#000" stroke-width="1.5"/>
<path d="M48.30,125.00 L52.98,126.00 L57.66,113.00 L70.28,78.00 L75.80,67.70 L80.39,58.10 L82.91,52.00 L93.20,38.30 L100.69,34.60 L116.59,32.30 L139.04,35.80 L205.46,37.70" fill="none" stroke="#707070" stroke-width="1.0"/>
<rect x="44.00" y="120.70" width="8.6" height="8.6" fill="#808080"/>
<rect x="48.68" y="121.70" width="8.6" height="8.6" fill="#808080"/>
<rect x="53.36" y="108.70" width="8.6" height="8.6" fill="#808080"/>
<rect x="65.98" y="73.70" width="8.6" height="8.6" fill="#808080"/>
<rect x="71.50" y="63.40" width="8.6" height="8.6" fill="#808080"/>
<rect x="76.09" y="53.80" width="8.6" height="8.6" fill="#808080"/>
<rect x="78.61" y="47.70" width="8.6" height="8.6" fill="#808080"/>
<rect x="88.90" y="34.00" width="8.6" height="8.6" fill="#808080"/>
<rect x="96.39" y="30.30" width="8.6" height="8.6" fill="#808080"/>
<rect x="112.29" y="28.00" width="8.6" height="8.6" fill="#808080"/>
<rect x="134.74" y="31.50" width="8.6" height="8.6" fill="#808080"/>
<rect x="201.16" y="33.40" width="8.6" height="8.6" fill="#808080"/>
<path d="M48.30,127.00 L52.98,129.00 L57.66,126.00 L70.28,108.00 L74.49,101.00 L79.64,97.00 L82.91,93.40 L93.20,83.10 L100.69,78.10 L116.59,75.20 L139.04,71.80 L205.46,68.60" fill="none" stroke="#0000cc" stroke-width="1.2"/>
<path d="M48.30,120.00 L54.10,130.50 L42.50,130.50 Z M48.30,123.72 L51.05,128.70 L45.55,128.70 Z" fill="#0000cc" fill-rule="evenodd"/>
<path d="M48.30,123.72 L51.05,128.70 L45.55,128.70 Z" fill="#fff"/>
<path d="M52.98,122.00 L58.78,132.50 L47.18,132.50 Z M52.98,125.72 L55.73,130.70 L50.23,130.70 Z" fill="#0000cc" fill-rule="evenodd"/>
<path d="M52.98,125.72 L55.73,130.70 L50.23,130.70 Z" fill="#fff"/>
<path d="M57.66,119.00 L63.45,129.50 L51.86,129.50 Z M57.66,122.72 L60.40,127.70 L54.91,127.70 Z" fill="#0000cc" fill-rule="evenodd"/>
<path d="M57.66,122.72 L60.40,127.70 L54.91,127.70 Z" fill="#fff"/>
<path d="M70.28,101.00 L76.08,111.50 L64.48,111.50 Z M70.28,104.72 L73.03,109.70 L67.53,109.70 Z" fill="#0000cc" fill-rule="evenodd"/>
<path d="M70.28,104.72 L73.03,109.70 L67.53,109.70 Z" fill="#fff"/>
<path d="M74.49,94.00 L80.29,104.50 L68.69,104.50 Z M74.49,97.72 L77.24,102.70 L71.74,102.70 Z" fill="#0000cc" fill-rule="evenodd"/>
<path d="M74.49,97.72 L77.24,102.70 L71.74,102.70 Z" fill="#fff"/>
<path d="M79.64,90.00 L85.44,100.50 L73.84,100.50 Z M79.64,93.72 L82.39,98.70 L76.89,98.70 Z" fill="#0000cc" fill-rule="evenodd"/>
<path d="M79.64,93.72 L82.39,98.70 L76.89,98.70 Z" fill="#fff"/>
<path d="M82.91,86.40 L88.71,96.90 L77.11,96.90 Z M82.91,90.12 L85.66,95.10 L80.16,95.10 Z" fill="#0000cc" fill-rule="evenodd"/>
<path d="M82.91,90.12 L85.66,95.10 L80.16,95.10 Z" fill="#fff"/>
<path d="M93.20,76.10 L99.00,86.60 L87.40,86.60 Z M93.20,79.82 L95.95,84.80 L90.45,84.80 Z" fill="#0000cc" fill-rule="evenodd"/>
<path d="M93.20,79.82 L95.95,84.80 L90.45,84.80 Z" fill="#fff"/>
<path d="M100.69,71.10 L106.49,81.60 L94.89,81.60 Z M100.69,74.82 L103.44,79.80 L97.94,79.80 Z" fill="#0000cc" fill-rule="evenodd"/>
<path d="M100.69,74.82 L103.44,79.80 L97.94,79.80 Z" fill="#fff"/>
<path d="M116.59,68.20 L122.39,78.70 L110.79,78.70 Z M116.59,71.92 L119.34,76.90 L113.84,76.90 Z" fill="#0000cc" fill-rule="evenodd"/>
<path d="M116.59,71.92 L119.34,76.90 L113.84,76.90 Z" fill="#fff"/>
<path d="M139.04,64.80 L144.84,75.30 L133.24,75.30 Z M139.04,68.52 L141.79,73.50 L136.29,73.50 Z" fill="#0000cc" fill-rule="evenodd"/>
<path d="M139.04,68.52 L141.79,73.50 L136.29,73.50 Z" fill="#fff"/>
<path d="M205.46,61.60 L211.26,72.10 L199.66,72.10 Z M205.46,65.32 L208.21,70.30 L202.71,70.30 Z" fill="#0000cc" fill-rule="evenodd"/>
<path d="M205.46,65.32 L208.21,70.30 L202.71,70.30 Z" fill="#fff"/>
<path d="M48.30,128.20 L52.98,131.70 L57.66,126.50 L70.28,108.60 L74.49,101.50 L79.64,98.50 L82.91,97.00 L93.20,96.10 L100.69,98.00 L116.59,95.50 L139.04,84.90 L205.46,75.60" fill="none" stroke="#0000cc" stroke-width="1.2"/>
<path d="M48.30,121.20 L54.10,131.70 L42.50,131.70 Z" fill="#0000cc"/>
<path d="M52.98,124.70 L58.78,135.20 L47.18,135.20 Z" fill="#0000cc"/>
<path d="M57.66,119.50 L63.45,130.00 L51.86,130.00 Z" fill="#0000cc"/>
<path d="M70.28,101.60 L76.08,112.10 L64.48,112.10 Z" fill="#0000cc"/>
<path d="M74.49,94.50 L80.29,105.00 L68.69,105.00 Z" fill="#0000cc"/>
<path d="M79.64,91.50 L85.44,102.00 L73.84,102.00 Z" fill="#0000cc"/>
<path d="M82.91,90.00 L88.71,100.50 L77.11,100.50 Z" fill="#0000cc"/>
<path d="M93.20,89.10 L99.00,99.60 L87.40,99.60 Z" fill="#0000cc"/>
<path d="M100.69,91.00 L106.49,101.50 L94.89,101.50 Z" fill="#0000cc"/>
<path d="M116.59,88.50 L122.39,99.00 L110.79,99.00 Z" fill="#0000cc"/>
<path d="M139.04,77.90 L144.84,88.40 L133.24,88.40 Z" fill="#0000cc"/>
<path d="M205.46,68.60 L211.26,79.10 L199.66,79.10 Z" fill="#0000cc"/>
<path d="M46.60,120.00 H50.40 M46.60,126.00 H50.40 M50.60,120.00 H54.40 M50.60,126.00 H54.40 M55.60,107.00 H59.40 M55.60,113.00 H59.40 M68.60,66.50 H72.40 M68.60,72.50 H72.40 M72.60,50.50 H76.40 M72.60,56.50 H76.40 M77.60,37.10 H81.40 M77.60,43.10 H81.40 M80.60,27.50 H84.40 M80.60,33.50 H84.40 M98.60,14.30 H102.40 M98.60,22.30 H102.40 M114.60,16.40 H118.40 M114.60,24.40 H118.40 M137.60,23.10 H141.40 M137.60,31.10 H141.40 M203.60,24.50 H207.40 M203.60,32.50 H207.40 M46.60,122.00 H50.40 M46.60,128.00 H50.40 M50.60,123.00 H54.40 M50.60,129.00 H54.40 M55.60,110.00 H59.40 M55.60,116.00 H59.40 M68.60,74.00 H72.40 M68.60,82.00 H72.40 M73.60,63.70 H77.40 M73.60,71.70 H77.40 M78.60,54.10 H82.40 M78.60,62.10 H82.40 M80.60,48.00 H84.40 M80.60,56.00 H84.40 M91.60,34.30 H95.40 M91.60,42.30 H95.40 M98.60,30.60 H102.40 M98.60,38.60 H102.40 M114.60,28.30 H118.40 M114.60,36.30 H118.40 M137.60,31.80 H141.40 M137.60,39.80 H141.40 M203.60,33.70 H207.40 M203.60,41.70 H207.40 M46.60,124.00 H50.40 M46.60,130.00 H50.40 M50.60,126.00 H54.40 M50.60,132.00 H54.40 M55.60,123.00 H59.40 M55.60,129.00 H59.40 M68.60,105.00 H72.40 M68.60,111.00 H72.40 M72.60,98.00 H76.40 M72.60,104.00 H76.40 M77.60,94.00 H81.40 M77.60,100.00 H81.40 M80.60,90.40 H84.40 M80.60,96.40 H84.40 M91.60,80.10 H95.40 M91.60,86.10 H95.40 M98.60,75.10 H102.40 M98.60,81.10 H102.40 M114.60,72.20 H118.40 M114.60,78.20 H118.40 M137.60,68.80 H141.40 M137.60,74.80 H141.40 M203.60,65.60 H207.40 M203.60,71.60 H207.40 M46.60,124.70 H50.40 M46.60,131.70 H50.40 M50.60,128.20 H54.40 M50.60,135.20 H54.40 M55.60,123.00 H59.40 M55.60,130.00 H59.40 M68.60,105.60 H72.40 M68.60,111.60 H72.40 M72.60,98.50 H76.40 M72.60,104.50 H76.40 M77.60,95.50 H81.40 M77.60,101.50 H81.40 M80.60,94.00 H84.40 M80.60,100.00 H84.40 M91.60,93.10 H95.40 M91.60,99.10 H95.40 M98.60,95.00 H102.40 M98.60,101.00 H102.40 M114.60,92.50 H118.40 M114.60,98.50 H118.40 M137.60,81.90 H141.40 M137.60,87.90 H141.40 M203.60,72.60 H207.40 M203.60,78.60 H207.40" stroke="#000" stroke-width="1.3" fill="none"/>
<path d="M277.30,31.10 L286.66,42.60 L299.28,95.30 L303.49,130.50 L308.64,150.50 L311.91,151.50 L322.20,136.60 L329.69,133.50 L345.59,131.30 L368.04,130.60 L434.46,129.00" fill="none" stroke="#000" stroke-width="1.3"/>
<circle cx="277.30" cy="31.10" r="4.4" fill="#fff" stroke="#000" stroke-width="1.5"/>
<circle cx="286.66" cy="42.60" r="4.4" fill="#fff" stroke="#000" stroke-width="1.5"/>
<circle cx="299.28" cy="95.30" r="4.4" fill="#fff" stroke="#000" stroke-width="1.5"/>
<circle cx="303.49" cy="130.50" r="4.4" fill="#fff" stroke="#000" stroke-width="1.5"/>
<circle cx="308.64" cy="150.50" r="4.4" fill="#fff" stroke="#000" stroke-width="1.5"/>
<circle cx="311.91" cy="151.50" r="4.4" fill="#fff" stroke="#000" stroke-width="1.5"/>
<circle cx="322.20" cy="136.60" r="4.4" fill="#fff" stroke="#000" stroke-width="1.5"/>
<circle cx="329.69" cy="133.50" r="4.4" fill="#fff" stroke="#000" stroke-width="1.5"/>
<circle cx="345.59" cy="131.30" r="4.4" fill="#fff" stroke="#000" stroke-width="1.5"/>
<circle cx="368.04" cy="130.60" r="4.4" fill="#fff" stroke="#000" stroke-width="1.5"/>
<circle cx="434.46" cy="129.00" r="4.4" fill="#fff" stroke="#000" stroke-width="1.5"/>
<path d="M277.30,37.50 L286.66,52.00 L299.28,104.60 L303.49,132.30 L308.64,153.00 L311.91,153.50 L322.20,150.00 L329.69,149.50 L345.59,145.90 L368.04,137.30 L434.46,136.40" fill="none" stroke="#707070" stroke-width="1.0"/>
<rect x="273.00" y="33.20" width="8.6" height="8.6" fill="#808080"/>
<rect x="282.36" y="47.70" width="8.6" height="8.6" fill="#808080"/>
<rect x="294.98" y="100.30" width="8.6" height="8.6" fill="#808080"/>
<rect x="299.19" y="128.00" width="8.6" height="8.6" fill="#808080"/>
<rect x="304.34" y="148.70" width="8.6" height="8.6" fill="#808080"/>
<rect x="307.61" y="149.20" width="8.6" height="8.6" fill="#808080"/>
<rect x="317.90" y="145.70" width="8.6" height="8.6" fill="#808080"/>
<rect x="325.39" y="145.20" width="8.6" height="8.6" fill="#808080"/>
<rect x="341.29" y="141.60" width="8.6" height="8.6" fill="#808080"/>
<rect x="363.74" y="133.00" width="8.6" height="8.6" fill="#808080"/>
<rect x="430.16" y="132.10" width="8.6" height="8.6" fill="#808080"/>
<path d="M277.30,49.50 L286.66,57.50 L299.28,71.00 L303.49,80.00 L308.64,87.50 L311.91,92.00 L322.20,113.50 L329.69,131.00 L345.59,149.70 L368.04,165.00 L434.46,157.20" fill="none" stroke="#0000cc" stroke-width="1.2"/>
<path d="M277.30,42.50 L283.10,53.00 L271.50,53.00 Z M277.30,46.22 L280.05,51.20 L274.55,51.20 Z" fill="#0000cc" fill-rule="evenodd"/>
<path d="M277.30,46.22 L280.05,51.20 L274.55,51.20 Z" fill="#fff"/>
<path d="M286.66,50.50 L292.46,61.00 L280.86,61.00 Z M286.66,54.22 L289.40,59.20 L283.91,59.20 Z" fill="#0000cc" fill-rule="evenodd"/>
<path d="M286.66,54.22 L289.40,59.20 L283.91,59.20 Z" fill="#fff"/>
<path d="M299.28,64.00 L305.08,74.50 L293.48,74.50 Z M299.28,67.72 L302.03,72.70 L296.53,72.70 Z" fill="#0000cc" fill-rule="evenodd"/>
<path d="M299.28,67.72 L302.03,72.70 L296.53,72.70 Z" fill="#fff"/>
<path d="M303.49,73.00 L309.29,83.50 L297.69,83.50 Z M303.49,76.72 L306.24,81.70 L300.74,81.70 Z" fill="#0000cc" fill-rule="evenodd"/>
<path d="M303.49,76.72 L306.24,81.70 L300.74,81.70 Z" fill="#fff"/>
<path d="M308.64,80.50 L314.44,91.00 L302.84,91.00 Z M308.64,84.22 L311.39,89.20 L305.89,89.20 Z" fill="#0000cc" fill-rule="evenodd"/>
<path d="M308.64,84.22 L311.39,89.20 L305.89,89.20 Z" fill="#fff"/>
<path d="M311.91,85.00 L317.71,95.50 L306.11,95.50 Z M311.91,88.72 L314.66,93.70 L309.16,93.70 Z" fill="#0000cc" fill-rule="evenodd"/>
<path d="M311.91,88.72 L314.66,93.70 L309.16,93.70 Z" fill="#fff"/>
<path d="M322.20,106.50 L328.00,117.00 L316.40,117.00 Z M322.20,110.22 L324.95,115.20 L319.45,115.20 Z" fill="#0000cc" fill-rule="evenodd"/>
<path d="M322.20,110.22 L324.95,115.20 L319.45,115.20 Z" fill="#fff"/>
<path d="M329.69,124.00 L335.49,134.50 L323.89,134.50 Z M329.69,127.72 L332.44,132.70 L326.94,132.70 Z" fill="#0000cc" fill-rule="evenodd"/>
<path d="M329.69,127.72 L332.44,132.70 L326.94,132.70 Z" fill="#fff"/>
<path d="M345.59,142.70 L351.39,153.20 L339.79,153.20 Z M345.59,146.42 L348.34,151.40 L342.84,151.40 Z" fill="#0000cc" fill-rule="evenodd"/>
<path d="M345.59,146.42 L348.34,151.40 L342.84,151.40 Z" fill="#fff"/>
<path d="M368.04,158.00 L373.84,168.50 L362.24,168.50 Z M368.04,161.72 L370.79,166.70 L365.29,166.70 Z" fill="#0000cc" fill-rule="evenodd"/>
<path d="M368.04,161.72 L370.79,166.70 L365.29,166.70 Z" fill="#fff"/>
<path d="M434.46,150.20 L440.26,160.70 L428.66,160.70 Z M434.46,153.92 L437.21,158.90 L431.71,158.90 Z" fill="#0000cc" fill-rule="evenodd"/>
<path d="M434.46,153.92 L437.21,158.90 L431.71,158.90 Z" fill="#fff"/>
<path d="M277.30,49.00 L286.66,57.40 L299.28,70.30 L303.49,79.30 L308.64,87.10 L311.91,91.50 L322.20,108.70 L329.69,119.50 L345.59,137.70 L368.04,166.00 L434.46,162.10" fill="none" stroke="#0000cc" stroke-width="1.2"/>
<path d="M277.30,42.00 L283.10,52.50 L271.50,52.50 Z" fill="#0000cc"/>
<path d="M286.66,50.40 L292.46,60.90 L280.86,60.90 Z" fill="#0000cc"/>
<path d="M299.28,63.30 L305.08,73.80 L293.48,73.80 Z" fill="#0000cc"/>
<path d="M303.49,72.30 L309.29,82.80 L297.69,82.80 Z" fill="#0000cc"/>
<path d="M308.64,80.10 L314.44,90.60 L302.84,90.60 Z" fill="#0000cc"/>
<path d="M311.91,84.50 L317.71,95.00 L306.11,95.00 Z" fill="#0000cc"/>
<path d="M322.20,101.70 L328.00,112.20 L316.40,112.20 Z" fill="#0000cc"/>
<path d="M329.69,112.50 L335.49,123.00 L323.89,123.00 Z" fill="#0000cc"/>
<path d="M345.59,130.70 L351.39,141.20 L339.79,141.20 Z" fill="#0000cc"/>
<path d="M368.04,159.00 L373.84,169.50 L362.24,169.50 Z" fill="#0000cc"/>
<path d="M434.46,155.10 L440.26,165.60 L428.66,165.60 Z" fill="#0000cc"/>
<path d="M322.50,144.00 V145.70 M322.50,154.30 V156.00 M329.50,142.50 V145.20 M329.50,153.80 V156.50 M322.50,117.00 V117.50 M329.50,134.50 V135.00 M345.50,153.20 V153.70 M434.50,160.70 V161.20 M322.50,99.70 V101.70 M322.50,112.20 V117.70 M329.50,109.70 V112.50 M329.50,123.00 V129.30 M345.50,141.20 V141.70 M368.50,169.50 V170.00" stroke="#000" stroke-width="1.15" fill="none"/>
<path d="M275.60,28.10 H279.40 M275.60,34.10 H279.40 M284.60,39.60 H288.40 M284.60,45.60 H288.40 M297.60,92.30 H301.40 M297.60,98.30 H301.40 M301.60,127.50 H305.40 M301.60,133.50 H305.40 M306.60,148.50 H310.40 M306.60,152.50 H310.40 M309.60,149.50 H313.40 M309.60,153.50 H313.40 M320.60,133.60 H324.40 M320.60,139.60 H324.40 M327.60,130.50 H331.40 M327.60,136.50 H331.40 M343.60,128.30 H347.40 M343.60,134.30 H347.40 M366.60,127.60 H370.40 M366.60,133.60 H370.40 M432.60,125.00 H436.40 M432.60,133.00 H436.40 M275.60,34.50 H279.40 M275.60,40.50 H279.40 M284.60,49.00 H288.40 M284.60,55.00 H288.40 M297.60,101.60 H301.40 M297.60,107.60 H301.40 M301.60,129.30 H305.40 M301.60,135.30 H305.40 M306.60,150.00 H310.40 M306.60,156.00 H310.40 M309.60,150.50 H313.40 M309.60,156.50 H313.40 M320.60,144.00 H324.40 M320.60,156.00 H324.40 M327.60,142.50 H331.40 M327.60,156.50 H331.40 M343.60,142.90 H347.40 M343.60,148.90 H347.40 M366.60,134.30 H370.40 M366.60,140.30 H370.40 M432.60,132.40 H436.40 M432.60,140.40 H436.40 M275.60,46.50 H279.40 M275.60,52.50 H279.40 M284.60,54.50 H288.40 M284.60,60.50 H288.40 M297.60,68.00 H301.40 M297.60,74.00 H301.40 M301.60,77.00 H305.40 M301.60,83.00 H305.40 M306.60,84.50 H310.40 M306.60,90.50 H310.40 M309.60,89.00 H313.40 M309.60,95.00 H313.40 M320.60,109.50 H324.40 M320.60,117.50 H324.40 M327.60,127.00 H331.40 M327.60,135.00 H331.40 M343.60,145.70 H347.40 M343.60,153.70 H347.40 M366.60,162.00 H370.40 M366.60,168.00 H370.40 M432.60,153.20 H436.40 M432.60,161.20 H436.40 M275.60,46.00 H279.40 M275.60,52.00 H279.40 M284.60,54.40 H288.40 M284.60,60.40 H288.40 M297.60,67.30 H301.40 M297.60,73.30 H301.40 M301.60,76.30 H305.40 M301.60,82.30 H305.40 M306.60,84.10 H310.40 M306.60,90.10 H310.40 M309.60,88.50 H313.40 M309.60,94.50 H313.40 M320.60,99.70 H324.40 M320.60,117.70 H324.40 M327.60,109.70 H331.40 M327.60,129.30 H331.40 M343.60,133.70 H347.40 M343.60,141.70 H347.40 M366.60,162.00 H370.40 M366.60,170.00 H370.40 M432.60,159.10 H436.40 M432.60,165.10 H436.40" stroke="#000" stroke-width="1.3" fill="none"/>
<path d="M506.80,43.50 L516.15,43.50 L532.99,66.70 L541.41,82.90 L551.70,134.30 L575.09,184.20 L663.96,184.20" fill="none" stroke="#000" stroke-width="1.3"/>
<circle cx="506.80" cy="43.50" r="4.4" fill="#fff" stroke="#000" stroke-width="1.5"/>
<circle cx="516.15" cy="43.50" r="4.4" fill="#fff" stroke="#000" stroke-width="1.5"/>
<circle cx="532.99" cy="66.70" r="4.4" fill="#fff" stroke="#000" stroke-width="1.5"/>
<circle cx="541.41" cy="82.90" r="4.4" fill="#fff" stroke="#000" stroke-width="1.5"/>
<circle cx="551.70" cy="134.30" r="4.4" fill="#fff" stroke="#000" stroke-width="1.5"/>
<circle cx="575.09" cy="184.20" r="4.4" fill="#fff" stroke="#000" stroke-width="1.5"/>
<circle cx="663.96" cy="184.20" r="4.4" fill="#fff" stroke="#000" stroke-width="1.5"/>
<path d="M506.80,42.30 L516.15,42.30 L532.99,55.30 L541.41,68.00 L551.70,114.90 L575.09,179.00 L663.96,184.20" fill="none" stroke="#707070" stroke-width="1.0"/>
<rect x="502.50" y="38.00" width="8.6" height="8.6" fill="#808080"/>
<rect x="511.85" y="38.00" width="8.6" height="8.6" fill="#808080"/>
<rect x="528.69" y="51.00" width="8.6" height="8.6" fill="#808080"/>
<rect x="537.11" y="63.70" width="8.6" height="8.6" fill="#808080"/>
<rect x="547.40" y="110.60" width="8.6" height="8.6" fill="#808080"/>
<rect x="570.79" y="174.70" width="8.6" height="8.6" fill="#808080"/>
<rect x="659.66" y="179.90" width="8.6" height="8.6" fill="#808080"/>
<path d="M506.80,33.80 L516.15,30.50 L532.99,31.00 L541.41,26.10 L551.70,35.20 L575.09,53.90 L663.96,118.60" fill="none" stroke="#0000cc" stroke-width="1.2"/>
<path d="M506.80,26.80 L512.60,37.30 L501.00,37.30 Z M506.80,30.52 L509.55,35.50 L504.05,35.50 Z" fill="#0000cc" fill-rule="evenodd"/>
<path d="M506.80,30.52 L509.55,35.50 L504.05,35.50 Z" fill="#fff"/>
<path d="M516.15,23.50 L521.95,34.00 L510.35,34.00 Z M516.15,27.22 L518.90,32.20 L513.41,32.20 Z" fill="#0000cc" fill-rule="evenodd"/>
<path d="M516.15,27.22 L518.90,32.20 L513.41,32.20 Z" fill="#fff"/>
<path d="M532.99,24.00 L538.79,34.50 L527.19,34.50 Z M532.99,27.72 L535.74,32.70 L530.24,32.70 Z" fill="#0000cc" fill-rule="evenodd"/>
<path d="M532.99,27.72 L535.74,32.70 L530.24,32.70 Z" fill="#fff"/>
<path d="M541.41,19.10 L547.21,29.60 L535.61,29.60 Z M541.41,22.82 L544.16,27.80 L538.66,27.80 Z" fill="#0000cc" fill-rule="evenodd"/>
<path d="M541.41,22.82 L544.16,27.80 L538.66,27.80 Z" fill="#fff"/>
<path d="M551.70,28.20 L557.50,38.70 L545.90,38.70 Z M551.70,31.92 L554.45,36.90 L548.95,36.90 Z" fill="#0000cc" fill-rule="evenodd"/>
<path d="M551.70,31.92 L554.45,36.90 L548.95,36.90 Z" fill="#fff"/>
<path d="M575.09,46.90 L580.89,57.40 L569.29,57.40 Z M575.09,50.62 L577.84,55.60 L572.34,55.60 Z" fill="#0000cc" fill-rule="evenodd"/>
<path d="M575.09,50.62 L577.84,55.60 L572.34,55.60 Z" fill="#fff"/>
<path d="M663.96,111.60 L669.76,122.10 L658.16,122.10 Z M663.96,115.32 L666.71,120.30 L661.21,120.30 Z" fill="#0000cc" fill-rule="evenodd"/>
<path d="M663.96,115.32 L666.71,120.30 L661.21,120.30 Z" fill="#fff"/>
<path d="M506.80,43.30 L516.15,44.00 L532.99,32.20 L541.41,44.20 L551.70,43.00 L575.09,51.00 L663.96,123.90" fill="none" stroke="#0000cc" stroke-width="1.2"/>
<path d="M506.80,36.30 L512.60,46.80 L501.00,46.80 Z" fill="#0000cc"/>
<path d="M516.15,37.00 L521.95,47.50 L510.35,47.50 Z" fill="#0000cc"/>
<path d="M532.99,25.20 L538.79,35.70 L527.19,35.70 Z" fill="#0000cc"/>
<path d="M541.41,37.20 L547.21,47.70 L535.61,47.70 Z" fill="#0000cc"/>
<path d="M551.70,36.00 L557.50,46.50 L545.90,46.50 Z" fill="#0000cc"/>
<path d="M575.09,44.00 L580.89,54.50 L569.29,54.50 Z" fill="#0000cc"/>
<path d="M663.96,116.90 L669.76,127.40 L658.16,127.40 Z" fill="#0000cc"/>
<path d="M551.50,106.30 V110.60 M551.50,119.20 V123.50 M575.50,172.40 V174.70 M575.50,183.30 V185.60 M506.50,15.80 V26.80 M506.50,37.30 V51.80 M516.50,10.50 V23.50 M516.50,34.00 V50.50 M663.50,108.60 V111.60 M663.50,122.10 V128.60 M532.50,18.20 V25.20 M532.50,35.70 V46.20 M541.50,31.70 V37.20 M541.50,47.70 V56.70 M663.50,113.90 V116.90 M663.50,127.40 V133.90" stroke="#000" stroke-width="1.15" fill="none"/>
<path d="M504.60,40.50 H508.40 M504.60,46.50 H508.40 M514.60,40.50 H518.40 M514.60,46.50 H518.40 M530.60,63.70 H534.40 M530.60,69.70 H534.40 M539.60,80.90 H543.40 M539.60,84.90 H543.40 M573.60,182.20 H577.40 M573.60,186.20 H577.40 M504.60,39.30 H508.40 M504.60,45.30 H508.40 M514.60,39.30 H518.40 M514.60,45.30 H518.40 M530.60,52.30 H534.40 M530.60,58.30 H534.40 M539.60,65.00 H543.40 M539.60,71.00 H543.40 M549.60,106.30 H553.40 M549.60,123.50 H553.40 M573.60,172.40 H577.40 M573.60,185.60 H577.40 M504.60,15.80 H508.40 M504.60,51.80 H508.40 M514.60,10.50 H518.40 M514.60,50.50 H518.40 M530.60,28.00 H534.40 M530.60,34.00 H534.40 M539.60,23.10 H543.40 M539.60,29.10 H543.40 M549.60,32.20 H553.40 M549.60,38.20 H553.40 M573.60,50.90 H577.40 M573.60,56.90 H577.40 M661.60,108.60 H665.40 M661.60,128.60 H665.40 M504.60,40.30 H508.40 M504.60,46.30 H508.40 M514.60,41.00 H518.40 M514.60,47.00 H518.40 M530.60,18.20 H534.40 M530.60,46.20 H534.40 M539.60,31.70 H543.40 M539.60,56.70 H543.40 M549.60,40.00 H553.40 M549.60,46.00 H553.40 M573.60,48.00 H577.40 M573.60,54.00 H577.40 M661.60,113.90 H665.40 M661.60,133.90 H665.40" stroke="#000" stroke-width="1.3" fill="none"/>
<path d="M48.30,409.50 L57.66,410.00 L74.49,384.00 L82.91,341.70 L93.20,383.00 L116.59,393.40 L139.04,391.80 L205.46,394.80" fill="none" stroke="#000" stroke-width="1.3"/>
<circle cx="48.30" cy="409.50" r="4.4" fill="#fff" stroke="#000" stroke-width="1.5"/>
<circle cx="57.66" cy="410.00" r="4.4" fill="#fff" stroke="#000" stroke-width="1.5"/>
<circle cx="74.49" cy="384.00" r="4.4" fill="#fff" stroke="#000" stroke-width="1.5"/>
<circle cx="82.91" cy="341.70" r="4.4" fill="#fff" stroke="#000" stroke-width="1.5"/>
<circle cx="93.20" cy="383.00" r="4.4" fill="#fff" stroke="#000" stroke-width="1.5"/>
<circle cx="116.59" cy="393.40" r="4.4" fill="#fff" stroke="#000" stroke-width="1.5"/>
<circle cx="139.04" cy="391.80" r="4.4" fill="#fff" stroke="#000" stroke-width="1.5"/>
<circle cx="205.46" cy="394.80" r="4.4" fill="#fff" stroke="#000" stroke-width="1.5"/>
<path d="M48.30,407.30 L57.66,408.00 L74.49,381.60 L82.91,319.00 L93.20,365.60 L116.59,365.50 L139.04,372.30 L205.46,377.70" fill="none" stroke="#707070" stroke-width="1.0"/>
<rect x="44.00" y="403.00" width="8.6" height="8.6" fill="#808080"/>
<rect x="53.36" y="403.70" width="8.6" height="8.6" fill="#808080"/>
<rect x="70.19" y="377.30" width="8.6" height="8.6" fill="#808080"/>
<rect x="78.61" y="314.70" width="8.6" height="8.6" fill="#808080"/>
<rect x="88.90" y="361.30" width="8.6" height="8.6" fill="#808080"/>
<rect x="112.29" y="361.20" width="8.6" height="8.6" fill="#808080"/>
<rect x="134.74" y="368.00" width="8.6" height="8.6" fill="#808080"/>
<rect x="201.16" y="373.40" width="8.6" height="8.6" fill="#808080"/>
<path d="M48.30,410.80 L57.66,406.00 L74.49,397.60 L82.91,372.60 L93.20,363.40 L116.59,308.50 L139.04,266.30 L205.46,265.30" fill="none" stroke="#0000cc" stroke-width="1.2"/>
<path d="M48.30,403.80 L54.10,414.30 L42.50,414.30 Z M48.30,407.52 L51.05,412.50 L45.55,412.50 Z" fill="#0000cc" fill-rule="evenodd"/>
<path d="M48.30,407.52 L51.05,412.50 L45.55,412.50 Z" fill="#fff"/>
<path d="M57.66,399.00 L63.45,409.50 L51.86,409.50 Z M57.66,402.72 L60.40,407.70 L54.91,407.70 Z" fill="#0000cc" fill-rule="evenodd"/>
<path d="M57.66,402.72 L60.40,407.70 L54.91,407.70 Z" fill="#fff"/>
<path d="M74.49,390.60 L80.29,401.10 L68.69,401.10 Z M74.49,394.32 L77.24,399.30 L71.74,399.30 Z" fill="#0000cc" fill-rule="evenodd"/>
<path d="M74.49,394.32 L77.24,399.30 L71.74,399.30 Z" fill="#fff"/>
<path d="M82.91,365.60 L88.71,376.10 L77.11,376.10 Z M82.91,369.32 L85.66,374.30 L80.16,374.30 Z" fill="#0000cc" fill-rule="evenodd"/>
<path d="M82.91,369.32 L85.66,374.30 L80.16,374.30 Z" fill="#fff"/>
<path d="M93.20,356.40 L99.00,366.90 L87.40,366.90 Z M93.20,360.12 L95.95,365.10 L90.45,365.10 Z" fill="#0000cc" fill-rule="evenodd"/>
<path d="M93.20,360.12 L95.95,365.10 L90.45,365.10 Z" fill="#fff"/>
<path d="M116.59,301.50 L122.39,312.00 L110.79,312.00 Z M116.59,305.22 L119.34,310.20 L113.84,310.20 Z" fill="#0000cc" fill-rule="evenodd"/>
<path d="M116.59,305.22 L119.34,310.20 L113.84,310.20 Z" fill="#fff"/>
<path d="M139.04,259.30 L144.84,269.80 L133.24,269.80 Z M139.04,263.02 L141.79,268.00 L136.29,268.00 Z" fill="#0000cc" fill-rule="evenodd"/>
<path d="M139.04,263.02 L141.79,268.00 L136.29,268.00 Z" fill="#fff"/>
<path d="M205.46,258.30 L211.26,268.80 L199.66,268.80 Z M205.46,262.02 L208.21,267.00 L202.71,267.00 Z" fill="#0000cc" fill-rule="evenodd"/>
<path d="M205.46,262.02 L208.21,267.00 L202.71,267.00 Z" fill="#fff"/>
<path d="M48.30,410.80 L57.66,405.00 L74.49,390.00 L82.91,389.40 L93.20,391.00 L100.69,387.70 L116.59,377.30 L139.04,351.90 L205.46,307.50" fill="none" stroke="#0000cc" stroke-width="1.2"/>
<path d="M48.30,403.80 L54.10,414.30 L42.50,414.30 Z" fill="#0000cc"/>
<path d="M57.66,398.00 L63.45,408.50 L51.86,408.50 Z" fill="#0000cc"/>
<path d="M74.49,383.00 L80.29,393.50 L68.69,393.50 Z" fill="#0000cc"/>
<path d="M82.91,382.40 L88.71,392.90 L77.11,392.90 Z" fill="#0000cc"/>
<path d="M93.20,384.00 L99.00,394.50 L87.40,394.50 Z" fill="#0000cc"/>
<path d="M100.69,380.70 L106.49,391.20 L94.89,391.20 Z" fill="#0000cc"/>
<path d="M116.59,370.30 L122.39,380.80 L110.79,380.80 Z" fill="#0000cc"/>
<path d="M139.04,344.90 L144.84,355.40 L133.24,355.40 Z" fill="#0000cc"/>
<path d="M205.46,300.50 L211.26,311.00 L199.66,311.00 Z" fill="#0000cc"/>
<path d="M82.50,335.70 V336.60 M82.50,346.80 V347.70 M139.50,385.30 V386.70 M139.50,396.90 V398.30 M205.50,385.80 V389.70 M205.50,399.90 V403.80 M74.50,362.10 V377.30 M74.50,385.90 V401.10 M82.50,311.40 V314.70 M82.50,323.30 V326.60 M116.50,353.10 V361.20 M116.50,369.80 V377.90 M139.50,367.30 V368.00 M139.50,376.60 V377.30 M205.50,372.70 V373.40 M205.50,382.00 V382.70 M74.50,389.60 V390.60 M74.50,401.10 V405.60 M82.50,364.60 V365.60 M82.50,376.10 V380.60 M93.50,366.90 V369.40 M116.50,296.50 V301.50 M116.50,312.00 V320.50 M139.50,253.30 V259.30 M139.50,269.80 V279.30 M205.50,255.30 V258.30 M205.50,268.80 V275.30 M48.50,414.30 V414.80 M57.50,408.50 V409.00 M74.50,393.50 V395.00 M82.50,381.80 V382.40 M82.50,392.90 V397.00 M93.50,394.50 V397.50 M100.50,391.20 V394.20 M116.50,380.80 V381.30 M139.50,355.40 V358.90" stroke="#000" stroke-width="1.15" fill="none"/>
<path d="M46.60,407.50 H50.40 M46.60,411.50 H50.40 M55.60,408.00 H59.40 M55.60,412.00 H59.40 M72.60,381.00 H76.40 M72.60,387.00 H76.40 M80.60,335.70 H84.40 M80.60,347.70 H84.40 M91.60,378.00 H95.40 M91.60,388.00 H95.40 M114.60,390.40 H118.40 M114.60,396.40 H118.40 M137.60,385.30 H141.40 M137.60,398.30 H141.40 M203.60,385.80 H207.40 M203.60,403.80 H207.40 M46.60,404.30 H50.40 M46.60,410.30 H50.40 M55.60,405.00 H59.40 M55.60,411.00 H59.40 M72.60,362.10 H76.40 M72.60,401.10 H76.40 M80.60,311.40 H84.40 M80.60,326.60 H84.40 M91.60,362.60 H95.40 M91.60,368.60 H95.40 M114.60,353.10 H118.40 M114.60,377.90 H118.40 M137.60,367.30 H141.40 M137.60,377.30 H141.40 M203.60,372.70 H207.40 M203.60,382.70 H207.40 M46.60,407.80 H50.40 M46.60,413.80 H50.40 M55.60,403.00 H59.40 M55.60,409.00 H59.40 M72.60,389.60 H76.40 M72.60,405.60 H76.40 M80.60,364.60 H84.40 M80.60,380.60 H84.40 M91.60,357.40 H95.40 M91.60,369.40 H95.40 M114.60,296.50 H118.40 M114.60,320.50 H118.40 M137.60,253.30 H141.40 M137.60,279.30 H141.40 M203.60,255.30 H207.40 M203.60,275.30 H207.40 M46.60,406.80 H50.40 M46.60,414.80 H50.40 M55.60,401.00 H59.40 M55.60,409.00 H59.40 M72.60,385.00 H76.40 M72.60,395.00 H76.40 M80.60,381.80 H84.40 M80.60,397.00 H84.40 M91.60,384.50 H95.40 M91.60,397.50 H95.40 M98.60,381.20 H102.40 M98.60,394.20 H102.40 M114.60,373.30 H118.40 M114.60,381.30 H118.40 M137.60,344.90 H141.40 M137.60,358.90 H141.40 M203.60,304.50 H207.40 M203.60,310.50 H207.40" stroke="#000" stroke-width="1.3" fill="none"/>
<path d="M277.30,413.20 L286.66,413.20 L303.49,413.20 L311.91,413.20 L322.20,413.20 L329.69,413.20 L345.59,413.20 L368.04,413.20 L434.46,413.20" fill="none" stroke="#000" stroke-width="1.3"/>
<circle cx="277.30" cy="413.20" r="4.4" fill="#fff" stroke="#000" stroke-width="1.5"/>
<circle cx="286.66" cy="413.20" r="4.4" fill="#fff" stroke="#000" stroke-width="1.5"/>
<circle cx="303.49" cy="413.20" r="4.4" fill="#fff" stroke="#000" stroke-width="1.5"/>
<circle cx="311.91" cy="413.20" r="4.4" fill="#fff" stroke="#000" stroke-width="1.5"/>
<circle cx="322.20" cy="413.20" r="4.4" fill="#fff" stroke="#000" stroke-width="1.5"/>
<circle cx="329.69" cy="413.20" r="4.4" fill="#fff" stroke="#000" stroke-width="1.5"/>
<circle cx="345.59" cy="413.20" r="4.4" fill="#fff" stroke="#000" stroke-width="1.5"/>
<circle cx="368.04" cy="413.20" r="4.4" fill="#fff" stroke="#000" stroke-width="1.5"/>
<circle cx="434.46" cy="413.20" r="4.4" fill="#fff" stroke="#000" stroke-width="1.5"/>
<path d="M277.30,412.70 L286.66,412.70 L303.49,412.70 L311.91,412.70 L322.20,412.70 L329.69,412.70 L345.59,412.70 L368.04,412.70 L434.46,412.70" fill="none" stroke="#707070" stroke-width="1.0"/>
<rect x="273.00" y="408.40" width="8.6" height="8.6" fill="#808080"/>
<rect x="282.36" y="408.40" width="8.6" height="8.6" fill="#808080"/>
<rect x="299.19" y="408.40" width="8.6" height="8.6" fill="#808080"/>
<rect x="307.61" y="408.40" width="8.6" height="8.6" fill="#808080"/>
<rect x="317.90" y="408.40" width="8.6" height="8.6" fill="#808080"/>
<rect x="325.39" y="408.40" width="8.6" height="8.6" fill="#808080"/>
<rect x="341.29" y="408.40" width="8.6" height="8.6" fill="#808080"/>
<rect x="363.74" y="408.40" width="8.6" height="8.6" fill="#808080"/>
<rect x="430.16" y="408.40" width="8.6" height="8.6" fill="#808080"/>
<path d="M277.30,413.20 L286.66,413.20 L303.49,413.20 L311.91,413.20 L322.20,413.20 L329.69,413.20 L345.59,413.20 L368.04,413.20 L434.46,413.20" fill="none" stroke="#0000cc" stroke-width="1.2"/>
<path d="M277.30,406.20 L283.10,416.70 L271.50,416.70 Z M277.30,409.92 L280.05,414.90 L274.55,414.90 Z" fill="#0000cc" fill-rule="evenodd"/>
<path d="M277.30,409.92 L280.05,414.90 L274.55,414.90 Z" fill="#fff"/>
<path d="M286.66,406.20 L292.46,416.70 L280.86,416.70 Z M286.66,409.92 L289.40,414.90 L283.91,414.90 Z" fill="#0000cc" fill-rule="evenodd"/>
<path d="M286.66,409.92 L289.40,414.90 L283.91,414.90 Z" fill="#fff"/>
<path d="M303.49,406.20 L309.29,416.70 L297.69,416.70 Z M303.49,409.92 L306.24,414.90 L300.74,414.90 Z" fill="#0000cc" fill-rule="evenodd"/>
<path d="M303.49,409.92 L306.24,414.90 L300.74,414.90 Z" fill="#fff"/>
<path d="M311.91,406.20 L317.71,416.70 L306.11,416.70 Z M311.91,409.92 L314.66,414.90 L309.16,414.90 Z" fill="#0000cc" fill-rule="evenodd"/>
<path d="M311.91,409.92 L314.66,414.90 L309.16,414.90 Z" fill="#fff"/>
<path d="M322.20,406.20 L328.00,416.70 L316.40,416.70 Z M322.20,409.92 L324.95,414.90 L319.45,414.90 Z" fill="#0000cc" fill-rule="evenodd"/>
<path d="M322.20,409.92 L324.95,414.90 L319.45,414.90 Z" fill="#fff"/>
<path d="M329.69,406.20 L335.49,416.70 L323.89,416.70 Z M329.69,409.92 L332.44,414.90 L326.94,414.90 Z" fill="#0000cc" fill-rule="evenodd"/>
<path d="M329.69,409.92 L332.44,414.90 L326.94,414.90 Z" fill="#fff"/>
<path d="M345.59,406.20 L351.39,416.70 L339.79,416.70 Z M345.59,409.92 L348.34,414.90 L342.84,414.90 Z" fill="#0000cc" fill-rule="evenodd"/>
<path d="M345.59,409.92 L348.34,414.90 L342.84,414.90 Z" fill="#fff"/>
<path d="M368.04,406.20 L373.84,416.70 L362.24,416.70 Z M368.04,409.92 L370.79,414.90 L365.29,414.90 Z" fill="#0000cc" fill-rule="evenodd"/>
<path d="M368.04,409.92 L370.79,414.90 L365.29,414.90 Z" fill="#fff"/>
<path d="M434.46,406.20 L440.26,416.70 L428.66,416.70 Z M434.46,409.92 L437.21,414.90 L431.71,414.90 Z" fill="#0000cc" fill-rule="evenodd"/>
<path d="M434.46,409.92 L437.21,414.90 L431.71,414.90 Z" fill="#fff"/>
<path d="M277.30,413.20 L286.66,413.20 L303.49,413.20 L311.91,413.20 L322.20,357.30 L329.69,333.20 L345.59,290.60 L368.04,292.00 L434.46,313.00" fill="none" stroke="#0000cc" stroke-width="1.2"/>
<path d="M277.30,406.20 L283.10,416.70 L271.50,416.70 Z" fill="#0000cc"/>
<path d="M286.66,406.20 L292.46,416.70 L280.86,416.70 Z" fill="#0000cc"/>
<path d="M303.49,406.20 L309.29,416.70 L297.69,416.70 Z" fill="#0000cc"/>
<path d="M311.91,406.20 L317.71,416.70 L306.11,416.70 Z" fill="#0000cc"/>
<path d="M322.20,350.30 L328.00,360.80 L316.40,360.80 Z" fill="#0000cc"/>
<path d="M329.69,326.20 L335.49,336.70 L323.89,336.70 Z" fill="#0000cc"/>
<path d="M345.59,283.60 L351.39,294.10 L339.79,294.10 Z" fill="#0000cc"/>
<path d="M368.04,285.00 L373.84,295.50 L362.24,295.50 Z" fill="#0000cc"/>
<path d="M434.46,306.00 L440.26,316.50 L428.66,316.50 Z" fill="#0000cc"/>
<path d="M277.30,413.20 L286.66,413.20 L303.49,413.20 L311.91,413.20 L322.20,413.20 L329.69,413.20 L345.59,413.20 L368.04,390.50 L434.46,272.80" fill="none" stroke="#0000cc" stroke-width="1.2" stroke-dasharray="3.2 2.6"/>
<path d="M277.30,406.20 L283.10,416.70 L271.50,416.70 Z" fill="#0000cc"/>
<path d="M286.66,406.20 L292.46,416.70 L280.86,416.70 Z" fill="#0000cc"/>
<path d="M303.49,406.20 L309.29,416.70 L297.69,416.70 Z" fill="#0000cc"/>
<path d="M311.91,406.20 L317.71,416.70 L306.11,416.70 Z" fill="#0000cc"/>
<path d="M322.20,406.20 L328.00,416.70 L316.40,416.70 Z" fill="#0000cc"/>
<path d="M329.69,406.20 L335.49,416.70 L323.89,416.70 Z" fill="#0000cc"/>
<path d="M345.59,406.20 L351.39,416.70 L339.79,416.70 Z" fill="#0000cc"/>
<path d="M368.04,383.50 L373.84,394.00 L362.24,394.00 Z" fill="#0000cc"/>
<path d="M434.46,265.80 L440.26,276.30 L428.66,276.30 Z" fill="#0000cc"/>
<path d="M322.50,346.80 V350.30 M322.50,360.80 V367.80 M329.50,315.20 V326.20 M329.50,336.70 V351.20 M345.50,268.30 V283.60 M345.50,294.10 V312.90 M368.50,271.00 V285.00 M368.50,295.50 V313.00 M434.50,291.40 V306.00 M434.50,316.50 V334.60 M368.50,394.00 V396.50 M434.50,261.30 V265.80 M434.50,276.30 V284.30" stroke="#000" stroke-width="1.15" fill="none"/>
<path d="M320.60,346.80 H324.40 M320.60,367.80 H324.40 M327.60,315.20 H331.40 M327.60,351.20 H331.40 M343.60,268.30 H347.40 M343.60,312.90 H347.40 M366.60,271.00 H370.40 M366.60,313.00 H370.40 M432.60,291.40 H436.40 M432.60,334.60 H436.40 M366.60,384.50 H370.40 M366.60,396.50 H370.40 M432.60,261.30 H436.40 M432.60,284.30 H436.40" stroke="#000" stroke-width="1.3" fill="none"/>
<path d="M506.80,410.00 L516.15,409.10 L532.99,324.60 L541.41,377.30 L551.70,397.40 L575.09,385.20 L597.54,385.70 L663.96,385.70" fill="none" stroke="#000" stroke-width="1.3"/>
<circle cx="506.80" cy="410.00" r="4.4" fill="#fff" stroke="#000" stroke-width="1.5"/>
<circle cx="516.15" cy="409.10" r="4.4" fill="#fff" stroke="#000" stroke-width="1.5"/>
<circle cx="532.99" cy="324.60" r="4.4" fill="#fff" stroke="#000" stroke-width="1.5"/>
<circle cx="541.41" cy="377.30" r="4.4" fill="#fff" stroke="#000" stroke-width="1.5"/>
<circle cx="551.70" cy="397.40" r="4.4" fill="#fff" stroke="#000" stroke-width="1.5"/>
<circle cx="575.09" cy="385.20" r="4.4" fill="#fff" stroke="#000" stroke-width="1.5"/>
<circle cx="597.54" cy="385.70" r="4.4" fill="#fff" stroke="#000" stroke-width="1.5"/>
<circle cx="663.96" cy="385.70" r="4.4" fill="#fff" stroke="#000" stroke-width="1.5"/>
<path d="M506.80,412.70 L516.15,405.00 L532.99,285.70 L541.41,359.90 L551.70,407.70 L575.09,398.90 L597.54,399.40 L663.96,397.40" fill="none" stroke="#707070" stroke-width="1.0"/>
<rect x="502.50" y="408.40" width="8.6" height="8.6" fill="#808080"/>
<rect x="511.85" y="400.70" width="8.6" height="8.6" fill="#808080"/>
<rect x="528.69" y="281.40" width="8.6" height="8.6" fill="#808080"/>
<rect x="537.11" y="355.60" width="8.6" height="8.6" fill="#808080"/>
<rect x="547.40" y="403.40" width="8.6" height="8.6" fill="#808080"/>
<rect x="570.79" y="394.60" width="8.6" height="8.6" fill="#808080"/>
<rect x="593.24" y="395.10" width="8.6" height="8.6" fill="#808080"/>
<rect x="659.66" y="393.10" width="8.6" height="8.6" fill="#808080"/>
<path d="M506.80,406.50 L516.15,398.50 L532.99,365.00 L541.41,327.70 L551.70,291.40 L575.09,265.30 L597.54,343.90 L663.96,404.30" fill="none" stroke="#0000cc" stroke-width="1.2"/>
<path d="M506.80,399.50 L512.60,410.00 L501.00,410.00 Z M506.80,403.22 L509.55,408.20 L504.05,408.20 Z" fill="#0000cc" fill-rule="evenodd"/>
<path d="M506.80,403.22 L509.55,408.20 L504.05,408.20 Z" fill="#fff"/>
<path d="M516.15,391.50 L521.95,402.00 L510.35,402.00 Z M516.15,395.22 L518.90,400.20 L513.41,400.20 Z" fill="#0000cc" fill-rule="evenodd"/>
<path d="M516.15,395.22 L518.90,400.20 L513.41,400.20 Z" fill="#fff"/>
<path d="M532.99,358.00 L538.79,368.50 L527.19,368.50 Z M532.99,361.72 L535.74,366.70 L530.24,366.70 Z" fill="#0000cc" fill-rule="evenodd"/>
<path d="M532.99,361.72 L535.74,366.70 L530.24,366.70 Z" fill="#fff"/>
<path d="M541.41,320.70 L547.21,331.20 L535.61,331.20 Z M541.41,324.42 L544.16,329.40 L538.66,329.40 Z" fill="#0000cc" fill-rule="evenodd"/>
<path d="M541.41,324.42 L544.16,329.40 L538.66,329.40 Z" fill="#fff"/>
<path d="M551.70,284.40 L557.50,294.90 L545.90,294.90 Z M551.70,288.12 L554.45,293.10 L548.95,293.10 Z" fill="#0000cc" fill-rule="evenodd"/>
<path d="M551.70,288.12 L554.45,293.10 L548.95,293.10 Z" fill="#fff"/>
<path d="M575.09,258.30 L580.89,268.80 L569.29,268.80 Z M575.09,262.02 L577.84,267.00 L572.34,267.00 Z" fill="#0000cc" fill-rule="evenodd"/>
<path d="M575.09,262.02 L577.84,267.00 L572.34,267.00 Z" fill="#fff"/>
<path d="M597.54,336.90 L603.34,347.40 L591.74,347.40 Z M597.54,340.62 L600.29,345.60 L594.79,345.60 Z" fill="#0000cc" fill-rule="evenodd"/>
<path d="M597.54,340.62 L600.29,345.60 L594.79,345.60 Z" fill="#fff"/>
<path d="M663.96,397.30 L669.76,407.80 L658.16,407.80 Z M663.96,401.02 L666.71,406.00 L661.21,406.00 Z" fill="#0000cc" fill-rule="evenodd"/>
<path d="M663.96,401.02 L666.71,406.00 L661.21,406.00 Z" fill="#fff"/>
<path d="M506.80,404.20 L516.15,397.00 L532.99,361.50 L541.41,352.30 L551.70,357.00 L559.19,346.20 L575.09,324.00 L597.54,331.50 L663.96,404.00" fill="none" stroke="#0000cc" stroke-width="1.2"/>
<path d="M506.80,397.20 L512.60,407.70 L501.00,407.70 Z" fill="#0000cc"/>
<path d="M516.15,390.00 L521.95,400.50 L510.35,400.50 Z" fill="#0000cc"/>
<path d="M532.99,354.50 L538.79,365.00 L527.19,365.00 Z" fill="#0000cc"/>
<path d="M541.41,345.30 L547.21,355.80 L535.61,355.80 Z" fill="#0000cc"/>
<path d="M551.70,350.00 L557.50,360.50 L545.90,360.50 Z" fill="#0000cc"/>
<path d="M559.19,339.20 L564.99,349.70 L553.39,349.70 Z" fill="#0000cc"/>
<path d="M575.09,317.00 L580.89,327.50 L569.29,327.50 Z" fill="#0000cc"/>
<path d="M597.54,324.50 L603.34,335.00 L591.74,335.00 Z" fill="#0000cc"/>
<path d="M663.96,397.00 L669.76,407.50 L658.16,407.50 Z" fill="#0000cc"/>
<path d="M532.50,316.60 V319.50 M532.50,329.70 V332.60 M541.50,368.90 V372.20 M541.50,382.40 V385.70 M532.50,267.90 V281.40 M532.50,290.00 V303.50 M541.50,353.90 V355.60 M541.50,364.20 V365.90 M532.50,368.50 V369.00 M541.50,331.20 V332.70 M551.50,294.90 V296.40 M597.50,335.90 V336.90 M597.50,347.40 V351.90 M532.50,365.00 V367.50 M541.50,355.80 V358.30 M551.50,347.00 V350.00 M551.50,360.50 V367.00 M559.50,333.20 V339.20 M559.50,349.70 V359.20 M575.50,327.50 V328.00 M597.50,317.50 V324.50 M597.50,335.00 V345.50" stroke="#000" stroke-width="1.15" fill="none"/>
<path d="M504.60,408.00 H508.40 M504.60,412.00 H508.40 M514.60,406.10 H518.40 M514.60,412.10 H518.40 M530.60,316.60 H534.40 M530.60,332.60 H534.40 M539.60,368.90 H543.40 M539.60,385.70 H543.40 M549.60,393.40 H553.40 M549.60,401.40 H553.40 M573.60,382.20 H577.40 M573.60,388.20 H577.40 M595.60,382.70 H599.40 M595.60,388.70 H599.40 M661.60,382.70 H665.40 M661.60,388.70 H665.40 M504.60,410.70 H508.40 M504.60,414.70 H508.40 M514.60,401.00 H518.40 M514.60,409.00 H518.40 M530.60,267.90 H534.40 M530.60,303.50 H534.40 M539.60,353.90 H543.40 M539.60,365.90 H543.40 M549.60,404.70 H553.40 M549.60,410.70 H553.40 M573.60,394.90 H577.40 M573.60,402.90 H577.40 M595.60,396.40 H599.40 M595.60,402.40 H599.40 M661.60,393.40 H665.40 M661.60,401.40 H665.40 M504.60,403.50 H508.40 M504.60,409.50 H508.40 M514.60,395.50 H518.40 M514.60,401.50 H518.40 M530.60,361.00 H534.40 M530.60,369.00 H534.40 M539.60,322.70 H543.40 M539.60,332.70 H543.40 M549.60,286.40 H553.40 M549.60,296.40 H553.40 M573.60,262.30 H577.40 M573.60,268.30 H577.40 M595.60,335.90 H599.40 M595.60,351.90 H599.40 M661.60,401.30 H665.40 M661.60,407.30 H665.40 M504.60,401.20 H508.40 M504.60,407.20 H508.40 M514.60,394.00 H518.40 M514.60,400.00 H518.40 M530.60,355.50 H534.40 M530.60,367.50 H534.40 M539.60,346.30 H543.40 M539.60,358.30 H543.40 M549.60,347.00 H553.40 M549.60,367.00 H553.40 M557.60,333.20 H561.40 M557.60,359.20 H561.40 M573.60,320.00 H577.40 M573.60,328.00 H577.40 M595.60,317.50 H599.40 M595.60,345.50 H599.40 M661.60,401.00 H665.40 M661.60,407.00 H665.40" stroke="#000" stroke-width="1.3" fill="none"/>
<path d="M48.30,642.20 L57.66,642.20 L74.49,632.00 L82.91,615.70 L93.20,619.50 L116.59,638.10 L205.46,638.10" fill="none" stroke="#000" stroke-width="1.3"/>
<circle cx="48.30" cy="642.20" r="4.4" fill="#fff" stroke="#000" stroke-width="1.5"/>
<circle cx="57.66" cy="642.20" r="4.4" fill="#fff" stroke="#000" stroke-width="1.5"/>
<circle cx="74.49" cy="632.00" r="4.4" fill="#fff" stroke="#000" stroke-width="1.5"/>
<circle cx="82.91" cy="615.70" r="4.4" fill="#fff" stroke="#000" stroke-width="1.5"/>
<circle cx="93.20" cy="619.50" r="4.4" fill="#fff" stroke="#000" stroke-width="1.5"/>
<circle cx="116.59" cy="638.10" r="4.4" fill="#fff" stroke="#000" stroke-width="1.5"/>
<circle cx="205.46" cy="638.10" r="4.4" fill="#fff" stroke="#000" stroke-width="1.5"/>
<path d="M48.30,642.20 L57.66,642.20 L74.49,628.70 L82.91,620.40 L93.20,611.10 L116.59,619.20 L205.46,630.30" fill="none" stroke="#707070" stroke-width="1.0"/>
<rect x="44.00" y="637.90" width="8.6" height="8.6" fill="#808080"/>
<rect x="53.36" y="637.90" width="8.6" height="8.6" fill="#808080"/>
<rect x="70.19" y="624.40" width="8.6" height="8.6" fill="#808080"/>
<rect x="78.61" y="616.10" width="8.6" height="8.6" fill="#808080"/>
<rect x="88.90" y="606.80" width="8.6" height="8.6" fill="#808080"/>
<rect x="112.29" y="614.90" width="8.6" height="8.6" fill="#808080"/>
<rect x="201.16" y="626.00" width="8.6" height="8.6" fill="#808080"/>
<path d="M48.30,638.00 L57.66,639.00 L74.49,634.00 L82.91,630.90 L93.20,622.30 L116.59,604.70 L205.46,618.40" fill="none" stroke="#0000cc" stroke-width="1.2"/>
<path d="M48.30,631.00 L54.10,641.50 L42.50,641.50 Z M48.30,634.72 L51.05,639.70 L45.55,639.70 Z" fill="#0000cc" fill-rule="evenodd"/>
<path d="M48.30,634.72 L51.05,639.70 L45.55,639.70 Z" fill="#fff"/>
<path d="M57.66,632.00 L63.45,642.50 L51.86,642.50 Z M57.66,635.72 L60.40,640.70 L54.91,640.70 Z" fill="#0000cc" fill-rule="evenodd"/>
<path d="M57.66,635.72 L60.40,640.70 L54.91,640.70 Z" fill="#fff"/>
<path d="M74.49,627.00 L80.29,637.50 L68.69,637.50 Z M74.49,630.72 L77.24,635.70 L71.74,635.70 Z" fill="#0000cc" fill-rule="evenodd"/>
<path d="M74.49,630.72 L77.24,635.70 L71.74,635.70 Z" fill="#fff"/>
<path d="M82.91,623.90 L88.71,634.40 L77.11,634.40 Z M82.91,627.62 L85.66,632.60 L80.16,632.60 Z" fill="#0000cc" fill-rule="evenodd"/>
<path d="M82.91,627.62 L85.66,632.60 L80.16,632.60 Z" fill="#fff"/>
<path d="M93.20,615.30 L99.00,625.80 L87.40,625.80 Z M93.20,619.02 L95.95,624.00 L90.45,624.00 Z" fill="#0000cc" fill-rule="evenodd"/>
<path d="M93.20,619.02 L95.95,624.00 L90.45,624.00 Z" fill="#fff"/>
<path d="M116.59,597.70 L122.39,608.20 L110.79,608.20 Z M116.59,601.42 L119.34,606.40 L113.84,606.40 Z" fill="#0000cc" fill-rule="evenodd"/>
<path d="M116.59,601.42 L119.34,606.40 L113.84,606.40 Z" fill="#fff"/>
<path d="M205.46,611.40 L211.26,621.90 L199.66,621.90 Z M205.46,615.12 L208.21,620.10 L202.71,620.10 Z" fill="#0000cc" fill-rule="evenodd"/>
<path d="M205.46,615.12 L208.21,620.10 L202.71,620.10 Z" fill="#fff"/>
<path d="M48.30,635.00 L57.66,636.90 L74.49,634.60 L82.91,604.10 L93.20,558.50 L116.59,493.70 L205.46,548.20" fill="none" stroke="#0000cc" stroke-width="1.2"/>
<path d="M48.30,628.00 L54.10,638.50 L42.50,638.50 Z" fill="#0000cc"/>
<path d="M57.66,629.90 L63.45,640.40 L51.86,640.40 Z" fill="#0000cc"/>
<path d="M74.49,627.60 L80.29,638.10 L68.69,638.10 Z" fill="#0000cc"/>
<path d="M82.91,597.10 L88.71,607.60 L77.11,607.60 Z" fill="#0000cc"/>
<path d="M93.20,551.50 L99.00,562.00 L87.40,562.00 Z" fill="#0000cc"/>
<path d="M116.59,486.70 L122.39,497.20 L110.79,497.20 Z" fill="#0000cc"/>
<path d="M205.46,541.20 L211.26,551.70 L199.66,551.70 Z" fill="#0000cc"/>
<path d="M82.50,614.40 V616.10 M82.50,624.70 V626.40 M93.50,603.30 V606.80 M93.50,615.40 V618.90 M116.50,605.20 V614.90 M116.50,623.50 V633.20 M205.50,624.30 V626.00 M205.50,634.60 V636.30 M82.50,634.40 V635.90 M116.50,608.20 V608.70 M48.50,638.50 V640.00 M57.50,640.40 V641.90 M74.50,638.10 V638.60 M82.50,596.60 V597.10 M82.50,607.60 V611.60 M93.50,542.10 V551.50 M93.50,562.00 V574.90 M116.50,470.40 V486.70 M116.50,497.20 V517.00 M205.50,551.70 V552.20" stroke="#000" stroke-width="1.15" fill="none"/>
<path d="M46.60,640.20 H50.40 M46.60,644.20 H50.40 M55.60,640.20 H59.40 M55.60,644.20 H59.40 M72.60,629.00 H76.40 M72.60,635.00 H76.40 M80.60,611.70 H84.40 M80.60,619.70 H84.40 M91.60,616.50 H95.40 M91.60,622.50 H95.40 M114.60,635.10 H118.40 M114.60,641.10 H118.40 M203.60,635.10 H207.40 M203.60,641.10 H207.40 M46.60,639.20 H50.40 M46.60,645.20 H50.40 M55.60,639.20 H59.40 M55.60,645.20 H59.40 M72.60,625.70 H76.40 M72.60,631.70 H76.40 M80.60,614.40 H84.40 M80.60,626.40 H84.40 M91.60,603.30 H95.40 M91.60,618.90 H95.40 M114.60,605.20 H118.40 M114.60,633.20 H118.40 M203.60,624.30 H207.40 M203.60,636.30 H207.40 M46.60,635.00 H50.40 M46.60,641.00 H50.40 M55.60,636.00 H59.40 M55.60,642.00 H59.40 M72.60,631.00 H76.40 M72.60,637.00 H76.40 M80.60,625.90 H84.40 M80.60,635.90 H84.40 M91.60,619.30 H95.40 M91.60,625.30 H95.40 M114.60,600.70 H118.40 M114.60,608.70 H118.40 M203.60,615.40 H207.40 M203.60,621.40 H207.40 M46.60,630.00 H50.40 M46.60,640.00 H50.40 M55.60,631.90 H59.40 M55.60,641.90 H59.40 M72.60,630.60 H76.40 M72.60,638.60 H76.40 M80.60,596.60 H84.40 M80.60,611.60 H84.40 M91.60,542.10 H95.40 M91.60,574.90 H95.40 M114.60,470.40 H118.40 M114.60,517.00 H118.40 M203.60,544.20 H207.40 M203.60,552.20 H207.40" stroke="#000" stroke-width="1.3" fill="none"/>
<path d="M277.30,641.00 L286.66,641.00 L303.49,629.20 L311.91,612.30 L322.20,555.40 L345.59,550.70 L368.04,553.10 L434.46,553.20" fill="none" stroke="#000" stroke-width="1.3"/>
<circle cx="277.30" cy="641.00" r="4.4" fill="#fff" stroke="#000" stroke-width="1.5"/>
<circle cx="286.66" cy="641.00" r="4.4" fill="#fff" stroke="#000" stroke-width="1.5"/>
<circle cx="303.49" cy="629.20" r="4.4" fill="#fff" stroke="#000" stroke-width="1.5"/>
<circle cx="311.91" cy="612.30" r="4.4" fill="#fff" stroke="#000" stroke-width="1.5"/>
<circle cx="322.20" cy="555.40" r="4.4" fill="#fff" stroke="#000" stroke-width="1.5"/>
<circle cx="345.59" cy="550.70" r="4.4" fill="#fff" stroke="#000" stroke-width="1.5"/>
<circle cx="368.04" cy="553.10" r="4.4" fill="#fff" stroke="#000" stroke-width="1.5"/>
<circle cx="434.46" cy="553.20" r="4.4" fill="#fff" stroke="#000" stroke-width="1.5"/>
<path d="M277.30,641.00 L286.66,641.00 L303.49,629.50 L311.91,616.00 L322.20,597.50 L345.59,579.70 L368.04,580.90 L434.46,580.20" fill="none" stroke="#000" stroke-width="1.3" stroke-dasharray="3.2 2.6"/>
<circle cx="277.30" cy="641.00" r="4.4" fill="#fff" stroke="#000" stroke-width="1.5"/>
<circle cx="286.66" cy="641.00" r="4.4" fill="#fff" stroke="#000" stroke-width="1.5"/>
<circle cx="303.49" cy="629.50" r="4.4" fill="#fff" stroke="#000" stroke-width="1.5"/>
<circle cx="311.91" cy="616.00" r="4.4" fill="#fff" stroke="#000" stroke-width="1.5"/>
<circle cx="322.20" cy="597.50" r="4.4" fill="#fff" stroke="#000" stroke-width="1.5"/>
<circle cx="345.59" cy="579.70" r="4.4" fill="#fff" stroke="#000" stroke-width="1.5"/>
<circle cx="368.04" cy="580.90" r="4.4" fill="#fff" stroke="#000" stroke-width="1.5"/>
<circle cx="434.46" cy="580.20" r="4.4" fill="#fff" stroke="#000" stroke-width="1.5"/>
<path d="M277.30,641.00 L286.66,641.00 L303.49,629.00 L311.91,619.80 L322.20,560.20 L345.59,498.30 L368.04,510.50 L434.46,507.10" fill="none" stroke="#707070" stroke-width="1.0"/>
<rect x="273.00" y="636.70" width="8.6" height="8.6" fill="#808080"/>
<rect x="282.36" y="636.70" width="8.6" height="8.6" fill="#808080"/>
<rect x="299.19" y="624.70" width="8.6" height="8.6" fill="#808080"/>
<rect x="307.61" y="615.50" width="8.6" height="8.6" fill="#808080"/>
<rect x="317.90" y="555.90" width="8.6" height="8.6" fill="#808080"/>
<rect x="341.29" y="494.00" width="8.6" height="8.6" fill="#808080"/>
<rect x="363.74" y="506.20" width="8.6" height="8.6" fill="#808080"/>
<rect x="430.16" y="502.80" width="8.6" height="8.6" fill="#808080"/>
<path d="M277.30,641.00 L286.66,641.00 L303.49,629.50 L311.91,619.00 L322.20,597.50 L345.59,544.90 L368.04,543.60 L434.46,537.60" fill="none" stroke="#707070" stroke-width="1.0" stroke-dasharray="3.2 2.6"/>
<rect x="273.00" y="636.70" width="8.6" height="8.6" fill="#808080"/>
<rect x="282.36" y="636.70" width="8.6" height="8.6" fill="#808080"/>
<rect x="299.19" y="625.20" width="8.6" height="8.6" fill="#808080"/>
<rect x="307.61" y="614.70" width="8.6" height="8.6" fill="#808080"/>
<rect x="317.90" y="593.20" width="8.6" height="8.6" fill="#808080"/>
<rect x="341.29" y="540.60" width="8.6" height="8.6" fill="#808080"/>
<rect x="363.74" y="539.30" width="8.6" height="8.6" fill="#808080"/>
<rect x="430.16" y="533.30" width="8.6" height="8.6" fill="#808080"/>
<path d="M277.30,640.50 L286.66,640.50 L303.49,640.00 L311.91,638.00 L322.20,632.70 L329.69,638.00 L345.59,630.30 L368.04,614.90 L434.46,512.20" fill="none" stroke="#0000cc" stroke-width="1.2"/>
<path d="M277.30,633.50 L283.10,644.00 L271.50,644.00 Z M277.30,637.22 L280.05,642.20 L274.55,642.20 Z" fill="#0000cc" fill-rule="evenodd"/>
<path d="M277.30,637.22 L280.05,642.20 L274.55,642.20 Z" fill="#fff"/>
<path d="M286.66,633.50 L292.46,644.00 L280.86,644.00 Z M286.66,637.22 L289.40,642.20 L283.91,642.20 Z" fill="#0000cc" fill-rule="evenodd"/>
<path d="M286.66,637.22 L289.40,642.20 L283.91,642.20 Z" fill="#fff"/>
<path d="M303.49,633.00 L309.29,643.50 L297.69,643.50 Z M303.49,636.72 L306.24,641.70 L300.74,641.70 Z" fill="#0000cc" fill-rule="evenodd"/>
<path d="M303.49,636.72 L306.24,641.70 L300.74,641.70 Z" fill="#fff"/>
<path d="M311.91,631.00 L317.71,641.50 L306.11,641.50 Z M311.91,634.72 L314.66,639.70 L309.16,639.70 Z" fill="#0000cc" fill-rule="evenodd"/>
<path d="M311.91,634.72 L314.66,639.70 L309.16,639.70 Z" fill="#fff"/>
<path d="M322.20,625.70 L328.00,636.20 L316.40,636.20 Z M322.20,629.42 L324.95,634.40 L319.45,634.40 Z" fill="#0000cc" fill-rule="evenodd"/>
<path d="M322.20,629.42 L324.95,634.40 L319.45,634.40 Z" fill="#fff"/>
<path d="M329.69,631.00 L335.49,641.50 L323.89,641.50 Z M329.69,634.72 L332.44,639.70 L326.94,639.70 Z" fill="#0000cc" fill-rule="evenodd"/>
<path d="M329.69,634.72 L332.44,639.70 L326.94,639.70 Z" fill="#fff"/>
<path d="M345.59,623.30 L351.39,633.80 L339.79,633.80 Z M345.59,627.02 L348.34,632.00 L342.84,632.00 Z" fill="#0000cc" fill-rule="evenodd"/>
<path d="M345.59,627.02 L348.34,632.00 L342.84,632.00 Z" fill="#fff"/>
<path d="M368.04,607.90 L373.84,618.40 L362.24,618.40 Z M368.04,611.62 L370.79,616.60 L365.29,616.60 Z" fill="#0000cc" fill-rule="evenodd"/>
<path d="M368.04,611.62 L370.79,616.60 L365.29,616.60 Z" fill="#fff"/>
<path d="M434.46,505.20 L440.26,515.70 L428.66,515.70 Z M434.46,508.92 L437.21,513.90 L431.71,513.90 Z" fill="#0000cc" fill-rule="evenodd"/>
<path d="M434.46,508.92 L437.21,513.90 L431.71,513.90 Z" fill="#fff"/>
<path d="M277.30,640.50 L286.66,640.50 L303.49,640.00 L311.91,639.00 L322.20,638.00 L329.69,638.50 L345.59,633.00 L368.04,627.50 L434.46,612.30" fill="none" stroke="#0000cc" stroke-width="1.2" stroke-dasharray="3.2 2.6"/>
<path d="M277.30,633.50 L283.10,644.00 L271.50,644.00 Z M277.30,637.22 L280.05,642.20 L274.55,642.20 Z" fill="#0000cc" fill-rule="evenodd"/>
<path d="M277.30,637.22 L280.05,642.20 L274.55,642.20 Z" fill="#fff"/>
<path d="M286.66,633.50 L292.46,644.00 L280.86,644.00 Z M286.66,637.22 L289.40,642.20 L283.91,642.20 Z" fill="#0000cc" fill-rule="evenodd"/>
<path d="M286.66,637.22 L289.40,642.20 L283.91,642.20 Z" fill="#fff"/>
<path d="M303.49,633.00 L309.29,643.50 L297.69,643.50 Z M303.49,636.72 L306.24,641.70 L300.74,641.70 Z" fill="#0000cc" fill-rule="evenodd"/>
<path d="M303.49,636.72 L306.24,641.70 L300.74,641.70 Z" fill="#fff"/>
<path d="M311.91,632.00 L317.71,642.50 L306.11,642.50 Z M311.91,635.72 L314.66,640.70 L309.16,640.70 Z" fill="#0000cc" fill-rule="evenodd"/>
<path d="M311.91,635.72 L314.66,640.70 L309.16,640.70 Z" fill="#fff"/>
<path d="M322.20,631.00 L328.00,641.50 L316.40,641.50 Z M322.20,634.72 L324.95,639.70 L319.45,639.70 Z" fill="#0000cc" fill-rule="evenodd"/>
<path d="M322.20,634.72 L324.95,639.70 L319.45,639.70 Z" fill="#fff"/>
<path d="M329.69,631.50 L335.49,642.00 L323.89,642.00 Z M329.69,635.22 L332.44,640.20 L326.94,640.20 Z" fill="#0000cc" fill-rule="evenodd"/>
<path d="M329.69,635.22 L332.44,640.20 L326.94,640.20 Z" fill="#fff"/>
<path d="M345.59,626.00 L351.39,636.50 L339.79,636.50 Z M345.59,629.72 L348.34,634.70 L342.84,634.70 Z" fill="#0000cc" fill-rule="evenodd"/>
<path d="M345.59,629.72 L348.34,634.70 L342.84,634.70 Z" fill="#fff"/>
<path d="M368.04,620.50 L373.84,631.00 L362.24,631.00 Z M368.04,624.22 L370.79,629.20 L365.29,629.20 Z" fill="#0000cc" fill-rule="evenodd"/>
<path d="M368.04,624.22 L370.79,629.20 L365.29,629.20 Z" fill="#fff"/>
<path d="M434.46,605.30 L440.26,615.80 L428.66,615.80 Z M434.46,609.02 L437.21,614.00 L431.71,614.00 Z" fill="#0000cc" fill-rule="evenodd"/>
<path d="M434.46,609.02 L437.21,614.00 L431.71,614.00 Z" fill="#fff"/>
<path d="M277.30,640.80 L286.66,640.80 L303.49,640.00 L311.91,639.50 L322.20,639.50 L329.69,639.50 L345.59,636.00 L368.04,633.50 L434.46,555.20" fill="none" stroke="#0000cc" stroke-width="1.2"/>
<path d="M277.30,633.80 L283.10,644.30 L271.50,644.30 Z" fill="#0000cc"/>
<path d="M286.66,633.80 L292.46,644.30 L280.86,644.30 Z" fill="#0000cc"/>
<path d="M303.49,633.00 L309.29,643.50 L297.69,643.50 Z" fill="#0000cc"/>
<path d="M311.91,632.50 L317.71,643.00 L306.11,643.00 Z" fill="#0000cc"/>
<path d="M322.20,632.50 L328.00,643.00 L316.40,643.00 Z" fill="#0000cc"/>
<path d="M329.69,632.50 L335.49,643.00 L323.89,643.00 Z" fill="#0000cc"/>
<path d="M345.59,629.00 L351.39,639.50 L339.79,639.50 Z" fill="#0000cc"/>
<path d="M368.04,626.50 L373.84,637.00 L362.24,637.00 Z" fill="#0000cc"/>
<path d="M434.46,548.20 L440.26,558.70 L428.66,558.70 Z" fill="#0000cc"/>
<path d="M277.30,640.80 L286.66,640.80 L303.49,640.50 L311.91,640.00 L322.20,640.00 L329.69,640.00 L345.59,636.50 L368.04,634.00 L434.46,615.70" fill="none" stroke="#0000cc" stroke-width="1.2" stroke-dasharray="3.2 2.6"/>
<path d="M277.30,633.80 L283.10,644.30 L271.50,644.30 Z" fill="#0000cc"/>
<path d="M286.66,633.80 L292.46,644.30 L280.86,644.30 Z" fill="#0000cc"/>
<path d="M303.49,633.50 L309.29,644.00 L297.69,644.00 Z" fill="#0000cc"/>
<path d="M311.91,633.00 L317.71,643.50 L306.11,643.50 Z" fill="#0000cc"/>
<path d="M322.20,633.00 L328.00,643.50 L316.40,643.50 Z" fill="#0000cc"/>
<path d="M329.69,633.00 L335.49,643.50 L323.89,643.50 Z" fill="#0000cc"/>
<path d="M345.59,629.50 L351.39,640.00 L339.79,640.00 Z" fill="#0000cc"/>
<path d="M368.04,627.00 L373.84,637.50 L362.24,637.50 Z" fill="#0000cc"/>
<path d="M434.46,608.70 L440.26,619.20 L428.66,619.20 Z" fill="#0000cc"/>
<path d="M322.50,538.40 V550.30 M322.50,560.50 V572.40 M345.50,539.70 V545.60 M345.50,555.80 V561.70 M368.50,535.40 V548.00 M368.50,558.20 V570.80 M434.50,543.20 V548.10 M434.50,558.30 V563.20 M345.50,570.20 V574.60 M345.50,584.80 V589.20 M322.50,539.70 V555.90 M322.50,564.50 V580.70 M345.50,480.30 V494.00 M345.50,502.60 V516.30 M368.50,503.10 V506.20 M368.50,514.80 V517.90 M434.50,485.10 V502.80 M434.50,511.40 V529.10 M345.50,525.90 V540.60 M345.50,549.20 V563.90 M368.50,533.60 V539.30 M368.50,547.90 V553.60 M434.50,531.60 V533.30 M434.50,541.90 V543.60 M345.50,633.80 V634.30 M368.50,602.90 V607.90 M368.50,618.40 V626.90 M434.50,485.20 V505.20 M434.50,515.70 V539.20 M368.50,631.00 V631.50 M434.50,615.80 V616.30 M434.50,558.70 V559.20 M434.50,619.20 V620.70" stroke="#000" stroke-width="1.15" fill="none"/>
<path d="M275.60,639.00 H279.40 M275.60,643.00 H279.40 M284.60,639.00 H288.40 M284.60,643.00 H288.40 M301.60,626.20 H305.40 M301.60,632.20 H305.40 M309.60,608.30 H313.40 M309.60,616.30 H313.40 M320.60,538.40 H324.40 M320.60,572.40 H324.40 M343.60,539.70 H347.40 M343.60,561.70 H347.40 M366.60,535.40 H370.40 M366.60,570.80 H370.40 M432.60,543.20 H436.40 M432.60,563.20 H436.40 M275.60,639.00 H279.40 M275.60,643.00 H279.40 M284.60,639.00 H288.40 M284.60,643.00 H288.40 M301.60,626.50 H305.40 M301.60,632.50 H305.40 M309.60,613.00 H313.40 M309.60,619.00 H313.40 M320.60,594.50 H324.40 M320.60,600.50 H324.40 M343.60,570.20 H347.40 M343.60,589.20 H347.40 M366.60,576.90 H370.40 M366.60,584.90 H370.40 M432.60,577.20 H436.40 M432.60,583.20 H436.40 M275.60,639.00 H279.40 M275.60,643.00 H279.40 M284.60,639.00 H288.40 M284.60,643.00 H288.40 M301.60,626.00 H305.40 M301.60,632.00 H305.40 M309.60,615.80 H313.40 M309.60,623.80 H313.40 M320.60,539.70 H324.40 M320.60,580.70 H324.40 M343.60,480.30 H347.40 M343.60,516.30 H347.40 M366.60,503.10 H370.40 M366.60,517.90 H370.40 M432.60,485.10 H436.40 M432.60,529.10 H436.40 M275.60,639.00 H279.40 M275.60,643.00 H279.40 M284.60,639.00 H288.40 M284.60,643.00 H288.40 M301.60,626.50 H305.40 M301.60,632.50 H305.40 M309.60,616.00 H313.40 M309.60,622.00 H313.40 M320.60,594.50 H324.40 M320.60,600.50 H324.40 M343.60,525.90 H347.40 M343.60,563.90 H347.40 M366.60,533.60 H370.40 M366.60,553.60 H370.40 M432.60,531.60 H436.40 M432.60,543.60 H436.40 M275.60,638.50 H279.40 M275.60,642.50 H279.40 M284.60,638.50 H288.40 M284.60,642.50 H288.40 M301.60,638.00 H305.40 M301.60,642.00 H305.40 M309.60,635.00 H313.40 M309.60,641.00 H313.40 M320.60,629.70 H324.40 M320.60,635.70 H324.40 M327.60,635.00 H331.40 M327.60,641.00 H331.40 M343.60,626.30 H347.40 M343.60,634.30 H347.40 M366.60,602.90 H370.40 M366.60,626.90 H370.40 M432.60,485.20 H436.40 M432.60,539.20 H436.40 M275.60,638.50 H279.40 M275.60,642.50 H279.40 M284.60,638.50 H288.40 M284.60,642.50 H288.40 M301.60,638.00 H305.40 M301.60,642.00 H305.40 M309.60,637.00 H313.40 M309.60,641.00 H313.40 M320.60,636.00 H324.40 M320.60,640.00 H324.40 M327.60,636.50 H331.40 M327.60,640.50 H331.40 M343.60,630.00 H347.40 M343.60,636.00 H347.40 M366.60,623.50 H370.40 M366.60,631.50 H370.40 M432.60,608.30 H436.40 M432.60,616.30 H436.40 M275.60,637.80 H279.40 M275.60,643.80 H279.40 M284.60,637.80 H288.40 M284.60,643.80 H288.40 M301.60,637.00 H305.40 M301.60,643.00 H305.40 M309.60,636.50 H313.40 M309.60,642.50 H313.40 M320.60,636.50 H324.40 M320.60,642.50 H324.40 M327.60,636.50 H331.40 M327.60,642.50 H331.40 M343.60,633.00 H347.40 M343.60,639.00 H347.40 M366.60,630.50 H370.40 M366.60,636.50 H370.40 M432.60,551.20 H436.40 M432.60,559.20 H436.40 M275.60,637.80 H279.40 M275.60,643.80 H279.40 M284.60,637.80 H288.40 M284.60,643.80 H288.40 M301.60,637.50 H305.40 M301.60,643.50 H305.40 M309.60,637.00 H313.40 M309.60,643.00 H313.40 M320.60,637.00 H324.40 M320.60,643.00 H324.40 M327.60,637.00 H331.40 M327.60,643.00 H331.40 M343.60,633.50 H347.40 M343.60,639.50 H347.40 M366.60,631.00 H370.40 M366.60,637.00 H370.40 M432.60,610.70 H436.40 M432.60,620.70 H436.40" stroke="#000" stroke-width="1.3" fill="none"/>
<path d="M506.80,641.50 L516.15,641.50 L532.99,632.70 L541.41,605.80 L551.70,547.80 L575.09,501.00 L597.54,496.50 L663.96,500.60" fill="none" stroke="#000" stroke-width="1.3"/>
<circle cx="506.80" cy="641.50" r="4.4" fill="#fff" stroke="#000" stroke-width="1.5"/>
<circle cx="516.15" cy="641.50" r="4.4" fill="#fff" stroke="#000" stroke-width="1.5"/>
<circle cx="532.99" cy="632.70" r="4.4" fill="#fff" stroke="#000" stroke-width="1.5"/>
<circle cx="541.41" cy="605.80" r="4.4" fill="#fff" stroke="#000" stroke-width="1.5"/>
<circle cx="551.70" cy="547.80" r="4.4" fill="#fff" stroke="#000" stroke-width="1.5"/>
<circle cx="575.09" cy="501.00" r="4.4" fill="#fff" stroke="#000" stroke-width="1.5"/>
<circle cx="597.54" cy="496.50" r="4.4" fill="#fff" stroke="#000" stroke-width="1.5"/>
<circle cx="663.96" cy="500.60" r="4.4" fill="#fff" stroke="#000" stroke-width="1.5"/>
<path d="M506.80,638.50 L516.15,638.50 L532.99,633.00 L541.41,612.00 L551.70,579.40 L575.09,509.80 L597.54,511.30 L663.96,512.30" fill="none" stroke="#707070" stroke-width="1.0"/>
<rect x="502.50" y="634.20" width="8.6" height="8.6" fill="#808080"/>
<rect x="511.85" y="634.20" width="8.6" height="8.6" fill="#808080"/>
<rect x="528.69" y="628.70" width="8.6" height="8.6" fill="#808080"/>
<rect x="537.11" y="607.70" width="8.6" height="8.6" fill="#808080"/>
<rect x="547.40" y="575.10" width="8.6" height="8.6" fill="#808080"/>
<rect x="570.79" y="505.50" width="8.6" height="8.6" fill="#808080"/>
<rect x="593.24" y="507.00" width="8.6" height="8.6" fill="#808080"/>
<rect x="659.66" y="508.00" width="8.6" height="8.6" fill="#808080"/>
<path d="M506.80,640.50 L516.15,640.50 L532.99,640.00 L541.41,640.00 L551.70,639.00 L559.19,638.00 L575.09,632.70 L597.54,619.40 L663.96,587.20" fill="none" stroke="#0000cc" stroke-width="1.2"/>
<path d="M506.80,633.50 L512.60,644.00 L501.00,644.00 Z M506.80,637.22 L509.55,642.20 L504.05,642.20 Z" fill="#0000cc" fill-rule="evenodd"/>
<path d="M506.80,637.22 L509.55,642.20 L504.05,642.20 Z" fill="#fff"/>
<path d="M516.15,633.50 L521.95,644.00 L510.35,644.00 Z M516.15,637.22 L518.90,642.20 L513.41,642.20 Z" fill="#0000cc" fill-rule="evenodd"/>
<path d="M516.15,637.22 L518.90,642.20 L513.41,642.20 Z" fill="#fff"/>
<path d="M532.99,633.00 L538.79,643.50 L527.19,643.50 Z M532.99,636.72 L535.74,641.70 L530.24,641.70 Z" fill="#0000cc" fill-rule="evenodd"/>
<path d="M532.99,636.72 L535.74,641.70 L530.24,641.70 Z" fill="#fff"/>
<path d="M541.41,633.00 L547.21,643.50 L535.61,643.50 Z M541.41,636.72 L544.16,641.70 L538.66,641.70 Z" fill="#0000cc" fill-rule="evenodd"/>
<path d="M541.41,636.72 L544.16,641.70 L538.66,641.70 Z" fill="#fff"/>
<path d="M551.70,632.00 L557.50,642.50 L545.90,642.50 Z M551.70,635.72 L554.45,640.70 L548.95,640.70 Z" fill="#0000cc" fill-rule="evenodd"/>
<path d="M551.70,635.72 L554.45,640.70 L548.95,640.70 Z" fill="#fff"/>
<path d="M559.19,631.00 L564.99,641.50 L553.39,641.50 Z M559.19,634.72 L561.94,639.70 L556.44,639.70 Z" fill="#0000cc" fill-rule="evenodd"/>
<path d="M559.19,634.72 L561.94,639.70 L556.44,639.70 Z" fill="#fff"/>
<path d="M575.09,625.70 L580.89,636.20 L569.29,636.20 Z M575.09,629.42 L577.84,634.40 L572.34,634.40 Z" fill="#0000cc" fill-rule="evenodd"/>
<path d="M575.09,629.42 L577.84,634.40 L572.34,634.40 Z" fill="#fff"/>
<path d="M597.54,612.40 L603.34,622.90 L591.74,622.90 Z M597.54,616.12 L600.29,621.10 L594.79,621.10 Z" fill="#0000cc" fill-rule="evenodd"/>
<path d="M597.54,616.12 L600.29,621.10 L594.79,621.10 Z" fill="#fff"/>
<path d="M663.96,580.20 L669.76,590.70 L658.16,590.70 Z M663.96,583.92 L666.71,588.90 L661.21,588.90 Z" fill="#0000cc" fill-rule="evenodd"/>
<path d="M663.96,583.92 L666.71,588.90 L661.21,588.90 Z" fill="#fff"/>
<path d="M506.80,641.00 L516.15,641.00 L532.99,639.80 L541.41,639.70 L551.70,639.40 L559.19,640.00 L575.09,640.00 L597.54,629.20 L663.96,580.40" fill="none" stroke="#0000cc" stroke-width="1.2"/>
<path d="M506.80,634.00 L512.60,644.50 L501.00,644.50 Z" fill="#0000cc"/>
<path d="M516.15,634.00 L521.95,644.50 L510.35,644.50 Z" fill="#0000cc"/>
<path d="M532.99,632.80 L538.79,643.30 L527.19,643.30 Z" fill="#0000cc"/>
<path d="M541.41,632.70 L547.21,643.20 L535.61,643.20 Z" fill="#0000cc"/>
<path d="M551.70,632.40 L557.50,642.90 L545.90,642.90 Z" fill="#0000cc"/>
<path d="M559.19,633.00 L564.99,643.50 L553.39,643.50 Z" fill="#0000cc"/>
<path d="M575.09,633.00 L580.89,643.50 L569.29,643.50 Z" fill="#0000cc"/>
<path d="M597.54,622.20 L603.34,632.70 L591.74,632.70 Z" fill="#0000cc"/>
<path d="M663.96,573.40 L669.76,583.90 L658.16,583.90 Z" fill="#0000cc"/>
<path d="M575.50,481.00 V495.90 M575.50,506.10 V521.00 M597.50,502.60 V507.00 M597.50,515.60 V520.00 M663.50,507.30 V508.00 M663.50,516.60 V517.30 M597.50,622.90 V625.40 M663.50,590.70 V592.20 M597.50,632.70 V634.20 M663.50,570.40 V573.40 M663.50,583.90 V590.40" stroke="#000" stroke-width="1.15" fill="none"/>
<path d="M504.60,639.50 H508.40 M504.60,643.50 H508.40 M514.60,639.50 H518.40 M514.60,643.50 H518.40 M530.60,629.70 H534.40 M530.60,635.70 H534.40 M539.60,601.80 H543.40 M539.60,609.80 H543.40 M549.60,544.80 H553.40 M549.60,550.80 H553.40 M573.60,481.00 H577.40 M573.60,521.00 H577.40 M595.60,493.00 H599.40 M595.60,500.00 H599.40 M661.60,497.10 H665.40 M661.60,504.10 H665.40 M504.60,636.50 H508.40 M504.60,640.50 H508.40 M514.60,636.50 H518.40 M514.60,640.50 H518.40 M530.60,630.00 H534.40 M530.60,636.00 H534.40 M539.60,608.00 H543.40 M539.60,616.00 H543.40 M549.60,576.40 H553.40 M549.60,582.40 H553.40 M573.60,505.80 H577.40 M573.60,513.80 H577.40 M595.60,502.60 H599.40 M595.60,520.00 H599.40 M661.60,507.30 H665.40 M661.60,517.30 H665.40 M504.60,638.50 H508.40 M504.60,642.50 H508.40 M514.60,638.50 H518.40 M514.60,642.50 H518.40 M530.60,638.00 H534.40 M530.60,642.00 H534.40 M539.60,638.00 H543.40 M539.60,642.00 H543.40 M549.60,637.00 H553.40 M549.60,641.00 H553.40 M557.60,636.00 H561.40 M557.60,640.00 H561.40 M573.60,629.70 H577.40 M573.60,635.70 H577.40 M595.60,613.40 H599.40 M595.60,625.40 H599.40 M661.60,582.20 H665.40 M661.60,592.20 H665.40 M504.60,638.00 H508.40 M504.60,644.00 H508.40 M514.60,638.00 H518.40 M514.60,644.00 H518.40 M530.60,636.80 H534.40 M530.60,642.80 H534.40 M539.60,636.70 H543.40 M539.60,642.70 H543.40 M549.60,636.40 H553.40 M549.60,642.40 H553.40 M557.60,637.00 H561.40 M557.60,643.00 H561.40 M573.60,637.00 H577.40 M573.60,643.00 H577.40 M595.60,624.20 H599.40 M595.60,634.20 H599.40 M661.60,570.40 H665.40 M661.60,590.40 H665.40" stroke="#000" stroke-width="1.3" fill="none"/>
</svg></body></html>
